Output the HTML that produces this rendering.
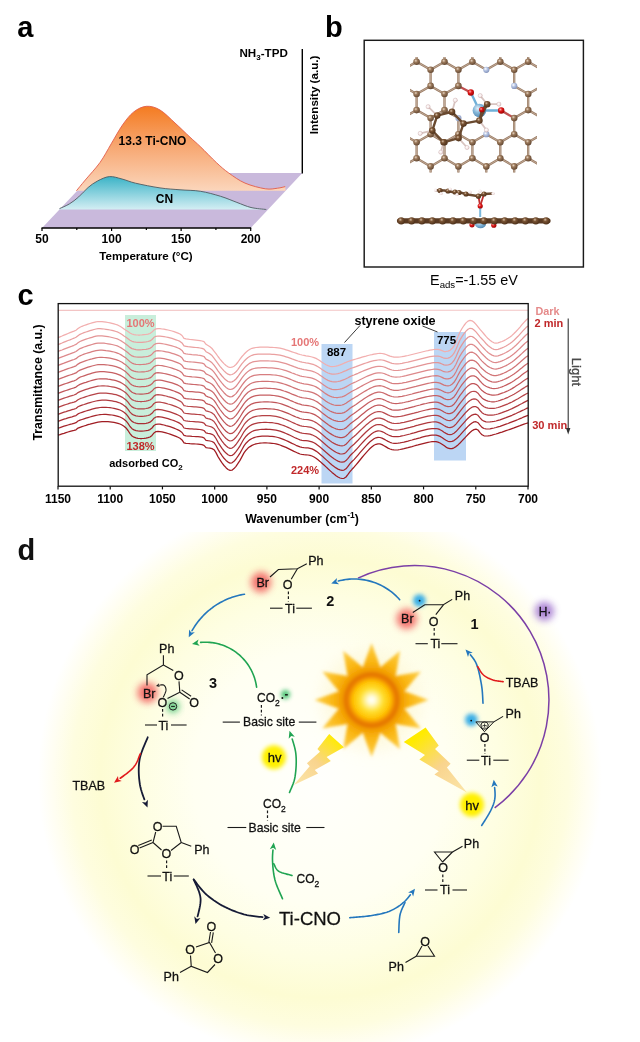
<!DOCTYPE html>
<html><head><meta charset="utf-8"><style>
html,body{margin:0;padding:0;background:#fff;}
svg{display:block;will-change:transform;}
text{font-family:"Liberation Sans",sans-serif;}
</style></head><body>
<svg width="640" height="1042" viewBox="0 0 640 1042">
<rect width="640" height="1042" fill="#fff"/>
<defs>
<linearGradient id="gOr" gradientUnits="userSpaceOnUse" x1="0" y1="106" x2="0" y2="191">
<stop offset="0" stop-color="#f47b20"/><stop offset="0.45" stop-color="#f7a56e"/><stop offset="1" stop-color="#fbd6bc"/></linearGradient>
<linearGradient id="gTe" gradientUnits="userSpaceOnUse" x1="0" y1="176" x2="0" y2="210">
<stop offset="0" stop-color="#38b2c6"/><stop offset="1" stop-color="#d6eff4"/></linearGradient>
</defs>
<polygon points="42,228 250.7,228 302.3,173 94,173" fill="#c9b9dc"/>
<path d="M76.40,190.80 C77.88,189.00 81.37,184.72 85.30,180.00 C89.23,175.28 95.67,168.54 100.00,162.50 C104.33,156.46 107.50,150.00 111.25,143.75 C115.00,137.50 118.75,130.31 122.50,125.00 C126.25,119.69 129.75,115.02 133.75,111.90 C137.75,108.78 142.12,106.62 146.50,106.30 C150.88,105.98 155.25,107.22 160.00,110.00 C164.75,112.78 170.00,118.47 175.00,123.00 C180.00,127.53 185.78,133.27 190.00,137.20 C194.22,141.13 195.87,142.33 200.30,146.60 C204.73,150.87 211.86,158.40 216.60,162.80 C221.34,167.20 224.02,169.62 228.75,173.00 C233.48,176.38 238.91,180.47 245.00,183.10 C251.09,185.73 259.88,187.95 265.30,188.80 C270.72,189.65 274.18,188.57 277.50,188.20 C280.82,187.83 283.92,186.87 285.20,186.60 L285.6,190.8 Z" fill="url(#gOr)"/>
<path d="M76.40,190.80 C77.88,189.00 81.37,184.72 85.30,180.00 C89.23,175.28 95.67,168.54 100.00,162.50 C104.33,156.46 107.50,150.00 111.25,143.75 C115.00,137.50 118.75,130.31 122.50,125.00 C126.25,119.69 129.75,115.02 133.75,111.90 C137.75,108.78 142.12,106.62 146.50,106.30 C150.88,105.98 155.25,107.22 160.00,110.00 C164.75,112.78 170.00,118.47 175.00,123.00 C180.00,127.53 185.78,133.27 190.00,137.20 C194.22,141.13 195.87,142.33 200.30,146.60 C204.73,150.87 211.86,158.40 216.60,162.80 C221.34,167.20 224.02,169.62 228.75,173.00 C233.48,176.38 238.91,180.47 245.00,183.10 C251.09,185.73 259.88,187.95 265.30,188.80 C270.72,189.65 274.18,188.57 277.50,188.20 C280.82,187.83 283.92,186.87 285.20,186.60" fill="none" stroke="#e25c4a" stroke-width="0.9"/>
<path d="M59.50,208.60 C61.15,207.82 66.20,205.85 69.40,203.90 C72.60,201.95 75.58,199.63 78.70,196.90 C81.82,194.17 84.97,190.15 88.10,187.50 C91.23,184.85 93.95,182.82 97.50,181.00 C101.05,179.18 105.32,176.93 109.40,176.60 C113.48,176.27 117.63,177.90 122.00,179.00 C126.37,180.10 129.27,181.72 135.60,183.20 C141.93,184.68 152.60,186.80 160.00,187.90 C167.40,189.00 173.28,189.24 180.00,189.80 C186.72,190.36 193.53,190.17 200.30,191.25 C207.07,192.33 214.50,194.44 220.60,196.30 C226.70,198.16 231.83,200.53 236.90,202.40 C241.97,204.27 246.10,206.32 251.00,207.50 C255.90,208.68 263.75,209.17 266.30,209.50 L267.3,209.6 L59.5,209.6 Z" fill="url(#gTe)"/>
<path d="M59.50,208.60 C61.15,207.82 66.20,205.85 69.40,203.90 C72.60,201.95 75.58,199.63 78.70,196.90 C81.82,194.17 84.97,190.15 88.10,187.50 C91.23,184.85 93.95,182.82 97.50,181.00 C101.05,179.18 105.32,176.93 109.40,176.60 C113.48,176.27 117.63,177.90 122.00,179.00 C126.37,180.10 129.27,181.72 135.60,183.20 C141.93,184.68 152.60,186.80 160.00,187.90 C167.40,189.00 173.28,189.24 180.00,189.80 C186.72,190.36 193.53,190.17 200.30,191.25 C207.07,192.33 214.50,194.44 220.60,196.30 C226.70,198.16 231.83,200.53 236.90,202.40 C241.97,204.27 246.10,206.32 251.00,207.50 C255.90,208.68 263.75,209.17 266.30,209.50" fill="none" stroke="#4f5a60" stroke-width="0.9"/>
<path d="M41.5,228 H251.2" stroke="#000" stroke-width="1.4"/>
<path d="M42.00,228 v3" stroke="#000" stroke-width="1.2"/>
<path d="M76.78,228 v2" stroke="#000" stroke-width="1.2"/>
<path d="M111.57,228 v3" stroke="#000" stroke-width="1.2"/>
<path d="M146.35,228 v2" stroke="#000" stroke-width="1.2"/>
<path d="M181.13,228 v3" stroke="#000" stroke-width="1.2"/>
<path d="M215.92,228 v2" stroke="#000" stroke-width="1.2"/>
<path d="M250.70,228 v3" stroke="#000" stroke-width="1.2"/>
<path d="M302.3,49 V173.5" stroke="#000" stroke-width="1.4"/>
<text x="17.3" y="36.8" font-family="Liberation Sans" font-weight="bold" font-size="29">a</text>
<text x="42.00" y="242.5" font-family="Liberation Sans" font-weight="bold" font-size="12" text-anchor="middle">50</text>
<text x="111.57" y="242.5" font-family="Liberation Sans" font-weight="bold" font-size="12" text-anchor="middle">100</text>
<text x="181.13" y="242.5" font-family="Liberation Sans" font-weight="bold" font-size="12" text-anchor="middle">150</text>
<text x="250.70" y="242.5" font-family="Liberation Sans" font-weight="bold" font-size="12" text-anchor="middle">200</text>
<text x="146" y="259.5" font-family="Liberation Sans" font-weight="bold" font-size="11.6" text-anchor="middle">Temperature (°C)</text>
<text x="239.5" y="57" font-family="Liberation Sans" font-weight="bold" font-size="11.6">NH<tspan font-size="8" dy="3">3</tspan><tspan dy="-3">-TPD</tspan></text>
<text transform="translate(317.8,95) rotate(-90)" font-family="Liberation Sans" font-weight="bold" font-size="11.6" text-anchor="middle">Intensity (a.u.)</text>
<text x="152.5" y="145.2" font-family="Liberation Sans" font-weight="bold" font-size="12" text-anchor="middle">13.3 Ti-CNO</text>
<text x="164.5" y="202.5" font-family="Liberation Sans" font-weight="bold" font-size="12" text-anchor="middle">CN</text>
<text x="325" y="36.7" font-family="Liberation Sans" font-weight="bold" font-size="29">b</text>
<rect x="364.2" y="40.3" width="219.2" height="226.7" fill="none" stroke="#1a1a1a" stroke-width="1.45"/>
<text x="474" y="284.6" font-family="Liberation Sans" font-size="14.4" text-anchor="middle">E<tspan font-size="9.6" dy="3.2">ads</tspan><tspan dy="-3.2">=-1.55 eV</tspan></text>
<defs>
<radialGradient id="atC" cx="0.38" cy="0.35" r="0.7"><stop offset="0" stop-color="#e8d6c4"/><stop offset="0.35" stop-color="#9c7a5c"/><stop offset="1" stop-color="#5e432e"/></radialGradient>
<radialGradient id="atCd" cx="0.38" cy="0.35" r="0.7"><stop offset="0" stop-color="#d8c0a8"/><stop offset="0.35" stop-color="#7a5434"/><stop offset="1" stop-color="#4a2e18"/></radialGradient>
<radialGradient id="atN" cx="0.38" cy="0.35" r="0.7"><stop offset="0" stop-color="#ffffff"/><stop offset="0.4" stop-color="#b8c6e4"/><stop offset="1" stop-color="#7f8fb8"/></radialGradient>
<radialGradient id="atO" cx="0.38" cy="0.35" r="0.7"><stop offset="0" stop-color="#ffb0b0"/><stop offset="0.4" stop-color="#e01818"/><stop offset="1" stop-color="#9a0000"/></radialGradient>
<radialGradient id="atH" cx="0.4" cy="0.4" r="0.7"><stop offset="0" stop-color="#ffffff"/><stop offset="0.6" stop-color="#f4e6e6"/><stop offset="1" stop-color="#c8a8a8"/></radialGradient>
<radialGradient id="atTi" cx="0.38" cy="0.35" r="0.7"><stop offset="0" stop-color="#e6f2fa"/><stop offset="0.45" stop-color="#86b8da"/><stop offset="1" stop-color="#4f86b0"/></radialGradient>
<clipPath id="latclip"><rect x="410" y="57" width="127" height="115.5"/></clipPath>
</defs>
<g clip-path="url(#latclip)"><path d="M500.3,158.3 L514.2,166.4 M430.6,85.9 L444.5,94.0 M528.2,110.1 L542.1,118.1 M444.5,158.3 L458.4,166.4 M458.4,166.4 L458.4,182.5 M444.5,94.0 L458.4,85.9 M458.4,118.1 L458.4,134.2 M528.2,142.2 L528.2,158.3 M514.2,166.4 L528.2,158.3 M514.2,85.9 L528.2,94.0 M486.3,166.4 L500.3,158.3 M514.2,166.4 L514.2,182.5 M528.2,45.6 L528.2,61.7 M500.3,61.7 L514.2,69.8 M514.2,69.8 L528.2,61.7 M444.5,142.2 L458.4,134.2 M486.3,166.4 L486.3,182.5 M444.5,61.7 L458.4,69.8 M514.2,69.8 L514.2,85.9 M430.6,69.8 L444.5,61.7 M430.6,69.8 L430.6,85.9 M402.7,85.9 L416.6,94.0 M444.5,110.1 L458.4,118.1 M416.6,158.3 L430.6,166.4 M402.7,134.2 L416.6,142.2 M472.4,158.3 L486.3,166.4 M458.4,134.2 L472.4,142.2 M528.2,94.0 L528.2,110.1 M430.6,118.1 L430.6,134.2 M416.6,110.1 L430.6,118.1 M416.6,61.7 L430.6,69.8 M430.6,166.4 L444.5,158.3 M528.2,158.3 L542.1,166.4 M430.6,166.4 L430.6,182.5 M486.3,134.2 L500.3,142.2 M472.4,61.7 L486.3,69.8 M458.4,69.8 L472.4,61.7 M528.2,142.2 L542.1,134.2 M472.4,45.6 L472.4,61.7 M416.6,94.0 L430.6,85.9 M402.7,166.4 L416.6,158.3 M500.3,142.2 L514.2,134.2 M472.4,142.2 L486.3,134.2 M444.5,45.6 L444.5,61.7 M416.6,94.0 L416.6,110.1 M458.4,69.8 L458.4,85.9 M514.2,118.1 L528.2,110.1 M444.5,94.0 L444.5,110.1 M416.6,142.2 L430.6,134.2 M472.4,142.2 L472.4,158.3 M514.2,118.1 L514.2,134.2 M416.6,142.2 L416.6,158.3 M500.3,142.2 L500.3,158.3 M444.5,142.2 L444.5,158.3 M402.7,118.1 L416.6,110.1 M528.2,94.0 L542.1,85.9 M500.3,45.6 L500.3,61.7 M430.6,134.2 L444.5,142.2 M528.2,61.7 L542.1,69.8 M416.6,45.6 L416.6,61.7 M430.6,118.1 L444.5,110.1 M514.2,134.2 L528.2,142.2 M458.4,166.4 L472.4,158.3 M486.3,69.8 L500.3,61.7 M402.7,69.8 L416.6,61.7" stroke="#9b7c64" stroke-width="2.3" fill="none"/>
<path d="M500.3,158.3 L514.2,166.4 M430.6,85.9 L444.5,94.0 M528.2,110.1 L542.1,118.1 M444.5,158.3 L458.4,166.4 M458.4,166.4 L458.4,182.5 M444.5,94.0 L458.4,85.9 M458.4,118.1 L458.4,134.2 M528.2,142.2 L528.2,158.3 M514.2,166.4 L528.2,158.3 M514.2,85.9 L528.2,94.0 M486.3,166.4 L500.3,158.3 M514.2,166.4 L514.2,182.5 M528.2,45.6 L528.2,61.7 M500.3,61.7 L514.2,69.8 M514.2,69.8 L528.2,61.7 M444.5,142.2 L458.4,134.2 M486.3,166.4 L486.3,182.5 M444.5,61.7 L458.4,69.8 M514.2,69.8 L514.2,85.9 M430.6,69.8 L444.5,61.7 M430.6,69.8 L430.6,85.9 M402.7,85.9 L416.6,94.0 M444.5,110.1 L458.4,118.1 M416.6,158.3 L430.6,166.4 M402.7,134.2 L416.6,142.2 M472.4,158.3 L486.3,166.4 M458.4,134.2 L472.4,142.2 M528.2,94.0 L528.2,110.1 M430.6,118.1 L430.6,134.2 M416.6,110.1 L430.6,118.1 M416.6,61.7 L430.6,69.8 M430.6,166.4 L444.5,158.3 M528.2,158.3 L542.1,166.4 M430.6,166.4 L430.6,182.5 M486.3,134.2 L500.3,142.2 M472.4,61.7 L486.3,69.8 M458.4,69.8 L472.4,61.7 M528.2,142.2 L542.1,134.2 M472.4,45.6 L472.4,61.7 M416.6,94.0 L430.6,85.9 M402.7,166.4 L416.6,158.3 M500.3,142.2 L514.2,134.2 M472.4,142.2 L486.3,134.2 M444.5,45.6 L444.5,61.7 M416.6,94.0 L416.6,110.1 M458.4,69.8 L458.4,85.9 M514.2,118.1 L528.2,110.1 M444.5,94.0 L444.5,110.1 M416.6,142.2 L430.6,134.2 M472.4,142.2 L472.4,158.3 M514.2,118.1 L514.2,134.2 M416.6,142.2 L416.6,158.3 M500.3,142.2 L500.3,158.3 M444.5,142.2 L444.5,158.3 M402.7,118.1 L416.6,110.1 M528.2,94.0 L542.1,85.9 M500.3,45.6 L500.3,61.7 M430.6,134.2 L444.5,142.2 M528.2,61.7 L542.1,69.8 M416.6,45.6 L416.6,61.7 M430.6,118.1 L444.5,110.1 M514.2,134.2 L528.2,142.2 M458.4,166.4 L472.4,158.3 M486.3,69.8 L500.3,61.7 M402.7,69.8 L416.6,61.7" stroke="#c6b2a2" stroke-width="0.8" fill="none"/></g>
<path d="M458.4,85.9 L470.8,92.5" stroke="#c05050" stroke-width="2.3" stroke-linecap="round"/>
<path d="M514.2,118.1 L501.2,110.5" stroke="#c05050" stroke-width="2.3" stroke-linecap="round"/>
<path d="M470.8,92.5 L479.4,110.5" stroke="#6fb0d8" stroke-width="2.4" stroke-linecap="round"/>
<path d="M501.2,110.5 L479.4,110.5" stroke="#6fb0d8" stroke-width="2.4" stroke-linecap="round"/>
<circle cx="416.6" cy="61.7" r="3.3" fill="url(#atC)"/>
<circle cx="444.5" cy="61.7" r="3.3" fill="url(#atC)"/>
<circle cx="430.6" cy="69.8" r="3.3" fill="url(#atC)"/>
<circle cx="472.4" cy="61.7" r="3.3" fill="url(#atC)"/>
<circle cx="458.4" cy="69.8" r="3.3" fill="url(#atC)"/>
<circle cx="500.3" cy="61.7" r="3.3" fill="url(#atC)"/>
<circle cx="486.3" cy="69.8" r="3.1" fill="url(#atN)"/>
<circle cx="528.2" cy="61.7" r="3.3" fill="url(#atC)"/>
<circle cx="514.2" cy="69.8" r="3.3" fill="url(#atC)"/>
<circle cx="430.6" cy="85.9" r="3.3" fill="url(#atC)"/>
<circle cx="416.6" cy="94.0" r="3.3" fill="url(#atC)"/>
<circle cx="458.4" cy="85.9" r="3.3" fill="url(#atC)"/>
<circle cx="444.5" cy="94.0" r="3.3" fill="url(#atC)"/>
<circle cx="514.2" cy="85.9" r="3.1" fill="url(#atN)"/>
<circle cx="528.2" cy="94.0" r="3.3" fill="url(#atC)"/>
<circle cx="416.6" cy="110.1" r="3.3" fill="url(#atC)"/>
<circle cx="444.5" cy="110.1" r="3.3" fill="url(#atC)"/>
<circle cx="430.6" cy="118.1" r="3.3" fill="url(#atC)"/>
<circle cx="458.4" cy="118.1" r="3.1" fill="url(#atN)"/>
<circle cx="528.2" cy="110.1" r="3.3" fill="url(#atC)"/>
<circle cx="514.2" cy="118.1" r="3.3" fill="url(#atC)"/>
<circle cx="430.6" cy="134.2" r="3.3" fill="url(#atC)"/>
<circle cx="416.6" cy="142.2" r="3.3" fill="url(#atC)"/>
<circle cx="458.4" cy="134.2" r="3.3" fill="url(#atC)"/>
<circle cx="444.5" cy="142.2" r="3.3" fill="url(#atC)"/>
<circle cx="486.3" cy="134.2" r="3.1" fill="url(#atN)"/>
<circle cx="472.4" cy="142.2" r="3.3" fill="url(#atC)"/>
<circle cx="514.2" cy="134.2" r="3.3" fill="url(#atC)"/>
<circle cx="500.3" cy="142.2" r="3.3" fill="url(#atC)"/>
<circle cx="528.2" cy="142.2" r="3.3" fill="url(#atC)"/>
<circle cx="416.6" cy="158.3" r="3.3" fill="url(#atC)"/>
<circle cx="444.5" cy="158.3" r="3.3" fill="url(#atC)"/>
<circle cx="430.6" cy="166.4" r="3.3" fill="url(#atC)"/>
<circle cx="472.4" cy="158.3" r="3.3" fill="url(#atC)"/>
<circle cx="458.4" cy="166.4" r="3.3" fill="url(#atC)"/>
<circle cx="500.3" cy="158.3" r="3.3" fill="url(#atC)"/>
<circle cx="486.3" cy="166.4" r="3.3" fill="url(#atC)"/>
<circle cx="528.2" cy="158.3" r="3.3" fill="url(#atC)"/>
<circle cx="514.2" cy="166.4" r="3.3" fill="url(#atC)"/>
<circle cx="470.8" cy="92.5" r="3.2" fill="url(#atO)"/>
<circle cx="501.2" cy="110.5" r="3.2" fill="url(#atO)"/>
<circle cx="479.4" cy="110.5" r="6.8" fill="url(#atTi)"/>
<path d="M480.2,95.6 L487.2,104.2" stroke="#d8c4c0" stroke-width="1.8" stroke-linecap="round"/>
<path d="M498.9,104.2 L487.2,104.2" stroke="#d8c4c0" stroke-width="1.8" stroke-linecap="round"/>
<path d="M486.4,130.0 L479.4,120.6" stroke="#d8c4c0" stroke-width="1.8" stroke-linecap="round"/>
<path d="M455.3,100.2 L452.0,111.9" stroke="#d8c4c0" stroke-width="1.8" stroke-linecap="round"/>
<path d="M428.1,106.7 L437.2,115.6" stroke="#d8c4c0" stroke-width="1.8" stroke-linecap="round"/>
<path d="M420.2,133.4 L432.3,130.6" stroke="#d8c4c0" stroke-width="1.8" stroke-linecap="round"/>
<path d="M440.8,152.2 L443.6,142.3" stroke="#d8c4c0" stroke-width="1.8" stroke-linecap="round"/>
<path d="M467.0,147.5 L458.6,138.1" stroke="#d8c4c0" stroke-width="1.8" stroke-linecap="round"/>
<path d="M487.2,104.2 L479.4,120.6" stroke="#6a4a30" stroke-width="2.3" stroke-linecap="round"/>
<path d="M487.2,104.2 L481.7,109.7" stroke="#6a4a30" stroke-width="2.0" stroke-linecap="round"/>
<path d="M479.4,120.6 L481.7,109.7" stroke="#6a4a30" stroke-width="2.0" stroke-linecap="round"/>
<path d="M479.4,120.6 L463.5,123.6" stroke="#6a4a30" stroke-width="2.4" stroke-linecap="round"/>
<path d="M437.2,115.6 L452.0,111.9" stroke="#6a4a30" stroke-width="2.4" stroke-linecap="round"/>
<path d="M452.0,111.9 L463.5,123.6" stroke="#6a4a30" stroke-width="2.4" stroke-linecap="round"/>
<path d="M463.5,123.6 L458.6,138.1" stroke="#6a4a30" stroke-width="2.4" stroke-linecap="round"/>
<path d="M458.6,138.1 L443.6,142.3" stroke="#6a4a30" stroke-width="2.4" stroke-linecap="round"/>
<path d="M443.6,142.3 L432.3,130.6" stroke="#6a4a30" stroke-width="2.4" stroke-linecap="round"/>
<path d="M432.3,130.6 L437.2,115.6" stroke="#6a4a30" stroke-width="2.4" stroke-linecap="round"/>
<circle cx="481.7" cy="109.7" r="2.6" fill="url(#atO)"/>
<circle cx="480.2" cy="95.6" r="2.1" fill="url(#atH)" stroke="#c8a8a8" stroke-width="0.4"/>
<circle cx="498.9" cy="104.2" r="2.1" fill="url(#atH)" stroke="#c8a8a8" stroke-width="0.4"/>
<circle cx="486.4" cy="130.0" r="2.1" fill="url(#atH)" stroke="#c8a8a8" stroke-width="0.4"/>
<circle cx="455.3" cy="100.2" r="2.1" fill="url(#atH)" stroke="#c8a8a8" stroke-width="0.4"/>
<circle cx="428.1" cy="106.7" r="2.1" fill="url(#atH)" stroke="#c8a8a8" stroke-width="0.4"/>
<circle cx="420.2" cy="133.4" r="2.1" fill="url(#atH)" stroke="#c8a8a8" stroke-width="0.4"/>
<circle cx="440.8" cy="152.2" r="2.1" fill="url(#atH)" stroke="#c8a8a8" stroke-width="0.4"/>
<circle cx="467.0" cy="147.5" r="2.1" fill="url(#atH)" stroke="#c8a8a8" stroke-width="0.4"/>
<circle cx="437.2" cy="115.6" r="3.3" fill="url(#atCd)"/>
<circle cx="452.0" cy="111.9" r="3.3" fill="url(#atCd)"/>
<circle cx="463.5" cy="123.6" r="3.3" fill="url(#atCd)"/>
<circle cx="458.6" cy="138.1" r="3.3" fill="url(#atCd)"/>
<circle cx="443.6" cy="142.3" r="3.3" fill="url(#atCd)"/>
<circle cx="432.3" cy="130.6" r="3.3" fill="url(#atCd)"/>
<circle cx="487.2" cy="104.2" r="3.3" fill="url(#atCd)"/>
<circle cx="479.4" cy="120.6" r="3.3" fill="url(#atCd)"/>
<circle cx="472" cy="224.8" r="2.6" fill="url(#atO)"/><circle cx="493.8" cy="225.2" r="2.6" fill="url(#atO)"/>
<ellipse cx="480.5" cy="224" rx="5.5" ry="4.3" fill="url(#atTi)"/>
<path d="M399.5,220.8 H548" stroke="#5a3a22" stroke-width="5.2" stroke-linecap="round"/>
<circle cx="401.2" cy="220.8" r="3.6" fill="url(#atCd)"/>
<circle cx="411.6" cy="220.8" r="3.6" fill="url(#atCd)"/>
<circle cx="421.9" cy="220.8" r="3.6" fill="url(#atCd)"/>
<circle cx="432.3" cy="220.8" r="3.6" fill="url(#atCd)"/>
<circle cx="442.6" cy="220.8" r="3.6" fill="url(#atCd)"/>
<circle cx="453.0" cy="220.8" r="3.6" fill="url(#atCd)"/>
<circle cx="463.3" cy="220.8" r="3.6" fill="url(#atCd)"/>
<circle cx="473.7" cy="220.8" r="3.6" fill="url(#atCd)"/>
<circle cx="484.0" cy="220.8" r="3.6" fill="url(#atCd)"/>
<circle cx="494.4" cy="220.8" r="3.6" fill="url(#atCd)"/>
<circle cx="504.7" cy="220.8" r="3.6" fill="url(#atCd)"/>
<circle cx="515.1" cy="220.8" r="3.6" fill="url(#atCd)"/>
<circle cx="525.4" cy="220.8" r="3.6" fill="url(#atCd)"/>
<circle cx="535.8" cy="220.8" r="3.6" fill="url(#atCd)"/>
<circle cx="546.1" cy="220.8" r="3.6" fill="url(#atCd)"/>
<path d="M480.2,206 V217" stroke="#7ab8dc" stroke-width="2"/>
<path d="M478.4,196.2 L480.2,206.0" stroke="#c03030" stroke-width="1.8" stroke-linecap="round"/>
<path d="M484.0,194.0 L480.2,206.0" stroke="#c03030" stroke-width="1.8" stroke-linecap="round"/>
<circle cx="480.2" cy="206" r="2.6" fill="url(#atO)"/>
<path d="M435.5,190.1 L444.4,190.5 L452.5,192 L462,193 L468,194.5 L478.4,196.2 L484,194 L493,193.5" stroke="#6a4a30" stroke-width="2.4" fill="none"/>
<circle cx="440.0" cy="190.5" r="2.6" fill="url(#atCd)"/>
<circle cx="448.0" cy="191.0" r="2.6" fill="url(#atCd)"/>
<circle cx="455.0" cy="192.0" r="2.6" fill="url(#atCd)"/>
<circle cx="459.0" cy="192.5" r="2.6" fill="url(#atCd)"/>
<circle cx="466.0" cy="194.0" r="2.6" fill="url(#atCd)"/>
<circle cx="478.4" cy="196.2" r="2.6" fill="url(#atCd)"/>
<circle cx="484.0" cy="194.0" r="2.6" fill="url(#atCd)"/>
<circle cx="435.5" cy="190.1" r="1.6" fill="url(#atH)"/>
<circle cx="441.0" cy="193.5" r="1.6" fill="url(#atH)"/>
<circle cx="450.0" cy="189.0" r="1.6" fill="url(#atH)"/>
<circle cx="457.0" cy="194.5" r="1.6" fill="url(#atH)"/>
<circle cx="470.0" cy="192.0" r="1.6" fill="url(#atH)"/>
<circle cx="480.0" cy="191.0" r="1.6" fill="url(#atH)"/>
<circle cx="493.0" cy="193.5" r="1.6" fill="url(#atH)"/>
<rect x="125" y="315" width="31" height="136" fill="#c9eedb"/>
<rect x="321.5" y="344" width="31" height="139.5" fill="#bcd6f4"/>
<rect x="434" y="332" width="32" height="128.5" fill="#bcd6f4"/>
<path d="M58.5,310.4 C150,310 300,311 528,310.2" fill="none" stroke="#f3c4c4" stroke-width="1.1"/>
<path d="M58.0,337.6 60.0,336.8 62.0,336.0 64.0,335.1 66.0,334.3 68.0,333.5 70.0,332.7 72.0,331.9 74.0,331.1 76.0,330.2 78.0,328.6 80.0,327.2 82.0,326.3 84.0,325.5 86.0,324.8 88.0,324.1 90.0,323.5 92.0,322.9 94.0,322.3 96.0,321.8 98.0,321.5 100.0,321.5 102.0,321.6 104.0,321.9 106.0,322.2 108.0,322.5 110.0,322.9 112.0,323.4 114.0,323.9 116.0,324.5 118.0,325.2 120.0,326.2 122.0,327.5 124.0,328.9 126.0,330.3 128.0,331.6 130.0,333.0 132.0,334.0 134.0,334.6 136.0,334.9 138.0,335.0 140.0,335.0 142.0,334.9 144.0,334.7 146.0,334.5 148.0,334.1 150.0,333.5 152.0,332.1 154.0,330.0 156.0,328.9 158.0,328.7 160.0,328.7 162.0,329.0 164.0,329.2 166.0,329.6 168.0,330.0 170.0,330.5 172.0,331.0 174.0,331.6 176.0,332.3 178.0,333.1 180.0,334.0 182.0,335.5 184.0,338.4 186.0,338.9 188.0,339.2 190.0,339.5 192.0,339.7 194.0,339.9 196.0,340.1 198.0,340.3 200.0,340.6 202.0,341.0 204.0,341.7 206.0,344.3 208.0,345.5 210.0,346.7 212.0,348.5 214.0,351.1 216.0,353.7 218.0,356.5 220.0,359.1 222.0,361.5 224.0,363.6 226.0,365.5 228.0,366.8 230.0,367.5 232.0,367.2 234.0,366.2 236.0,364.5 238.0,362.0 240.0,359.1 242.0,356.5 244.0,354.3 246.0,352.2 248.0,350.5 250.0,349.2 252.0,348.3 254.0,347.8 256.0,347.5 258.0,347.3 260.0,347.2 262.0,347.2 264.0,347.2 266.0,347.2 268.0,347.2 270.0,347.3 272.0,347.4 274.0,347.5 276.0,347.7 278.0,347.9 280.0,348.2 282.0,348.7 284.0,349.2 286.0,349.8 288.0,350.4 290.0,351.1 292.0,351.8 294.0,352.5 296.0,353.2 298.0,353.9 300.0,354.5 302.0,355.0 304.0,355.4 306.0,355.8 308.0,356.1 310.0,356.5 312.0,357.0 314.0,357.6 316.0,358.4 318.0,359.5 320.0,360.8 322.0,362.2 324.0,363.5 326.0,364.7 328.0,365.6 330.0,366.3 332.0,366.6 334.0,366.5 336.0,366.2 338.0,365.6 340.0,364.9 342.0,364.1 344.0,363.2 346.0,362.4 348.0,361.5 350.0,360.8 352.0,360.2 354.0,359.6 356.0,359.0 358.0,358.4 360.0,357.8 362.0,357.2 364.0,356.6 366.0,356.1 368.0,355.5 370.0,355.0 372.0,354.6 374.0,354.1 376.0,353.8 378.0,353.5 380.0,353.4 382.0,353.5 384.0,353.8 386.0,354.5 388.0,355.3 390.0,356.1 392.0,356.7 394.0,357.1 396.0,357.2 398.0,357.2 400.0,357.0 402.0,356.7 404.0,356.3 406.0,355.9 408.0,355.5 410.0,355.0 412.0,354.5 414.0,354.0 416.0,353.5 418.0,353.0 420.0,352.5 422.0,352.0 424.0,351.5 426.0,351.0 428.0,350.6 430.0,350.1 432.0,349.8 434.0,349.5 436.0,349.4 438.0,349.4 440.0,349.8 442.0,350.6 444.0,351.5 446.0,351.5 448.0,351.1 450.0,350.3 452.0,348.6 454.0,346.0 456.0,341.7 458.0,336.6 460.0,332.0 462.0,328.5 464.0,325.5 466.0,322.9 468.0,321.1 470.0,320.3 472.0,320.8 474.0,322.3 476.0,324.4 478.0,326.9 480.0,329.4 482.0,331.7 484.0,334.0 486.0,336.4 488.0,338.6 490.0,340.3 492.0,341.8 494.0,342.8 496.0,343.1 498.0,342.8 500.0,342.2 502.0,341.5 504.0,340.6 506.0,339.5 508.0,338.3 510.0,336.9 512.0,335.4 514.0,333.5 516.0,331.5 518.0,329.3 520.0,327.1 522.0,324.7 524.0,322.4 526.0,320.3 528.0,318.5" fill="none" stroke="rgb(242,174,174)" stroke-width="1.25" stroke-linejoin="round"/>
<path d="M58.0,344.6 60.0,343.8 62.0,343.0 64.0,342.1 66.0,341.3 68.0,340.5 70.0,339.8 72.0,339.0 74.0,338.2 76.0,337.3 78.0,335.7 80.0,334.3 82.0,333.5 84.0,332.7 86.0,332.0 88.0,331.3 90.0,330.7 92.0,330.1 94.0,329.5 96.0,329.0 98.0,328.7 100.0,328.7 102.0,328.8 104.0,329.0 106.0,329.3 108.0,329.6 110.0,330.0 112.0,330.4 114.0,330.9 116.0,331.5 118.0,332.2 120.0,333.2 122.0,334.5 124.0,335.9 126.0,337.2 128.0,338.7 130.0,340.2 132.0,341.3 134.0,341.9 136.0,342.2 138.0,342.4 140.0,342.4 142.0,342.3 144.0,342.1 146.0,341.9 148.0,341.5 150.0,340.9 152.0,339.5 154.0,337.3 156.0,336.3 158.0,336.0 160.0,336.1 162.0,336.3 164.0,336.6 166.0,337.0 168.0,337.4 170.0,337.9 172.0,338.4 174.0,339.1 176.0,339.8 178.0,340.5 180.0,341.4 182.0,342.9 184.0,345.9 186.0,346.3 188.0,346.7 190.0,346.9 192.0,347.1 194.0,347.3 196.0,347.5 198.0,347.7 200.0,348.0 202.0,348.4 204.0,349.1 206.0,351.7 208.0,352.8 210.0,353.9 212.0,355.6 214.0,358.1 216.0,360.8 218.0,363.6 220.0,366.3 222.0,368.7 224.0,370.9 226.0,372.8 228.0,374.2 230.0,374.8 232.0,374.5 234.0,373.5 236.0,371.8 238.0,369.3 240.0,366.4 242.0,363.6 244.0,361.3 246.0,359.2 248.0,357.5 250.0,356.2 252.0,355.3 254.0,354.7 256.0,354.4 258.0,354.2 260.0,354.1 262.0,354.0 264.0,354.0 266.0,354.0 268.0,354.1 270.0,354.2 272.0,354.3 274.0,354.4 276.0,354.6 278.0,354.8 280.0,355.1 282.0,355.6 284.0,356.2 286.0,356.8 288.0,357.4 290.0,358.1 292.0,358.9 294.0,359.6 296.0,360.3 298.0,361.0 300.0,361.6 302.0,362.1 304.0,362.5 306.0,362.9 308.0,363.2 310.0,363.6 312.0,364.1 314.0,364.7 316.0,365.6 318.0,366.7 320.0,368.0 322.0,369.4 324.0,370.7 326.0,372.0 328.0,373.0 330.0,373.7 332.0,374.2 334.0,374.2 336.0,374.0 338.0,373.6 340.0,373.0 342.0,372.3 344.0,371.4 346.0,370.6 348.0,369.6 350.0,368.7 352.0,368.0 354.0,367.3 356.0,366.6 358.0,365.8 360.0,365.1 362.0,364.4 364.0,363.7 366.0,363.0 368.0,362.3 370.0,361.7 372.0,361.1 374.0,360.7 376.0,360.3 378.0,360.0 380.0,359.9 382.0,360.0 384.0,360.4 386.0,361.1 388.0,361.9 390.0,362.7 392.0,363.4 394.0,363.7 396.0,363.9 398.0,363.8 400.0,363.6 402.0,363.3 404.0,362.9 406.0,362.5 408.0,362.1 410.0,361.6 412.0,361.1 414.0,360.6 416.0,360.1 418.0,359.6 420.0,359.1 422.0,358.6 424.0,358.1 426.0,357.6 428.0,357.1 430.0,356.7 432.0,356.3 434.0,356.1 436.0,356.0 438.0,356.1 440.0,356.5 442.0,357.3 444.0,358.2 446.0,358.4 448.0,358.1 450.0,357.3 452.0,355.8 454.0,353.2 456.0,349.2 458.0,344.4 460.0,339.9 462.0,336.6 464.0,333.6 466.0,331.1 468.0,329.2 470.0,328.3 472.0,328.6 474.0,330.0 476.0,331.9 478.0,334.3 480.0,336.8 482.0,339.0 484.0,341.2 486.0,343.5 488.0,345.5 490.0,347.1 492.0,348.5 494.0,349.4 496.0,349.6 498.0,349.3 500.0,348.7 502.0,347.9 504.0,347.0 506.0,346.0 508.0,344.8 510.0,343.5 512.0,342.0 514.0,340.3 516.0,338.3 518.0,336.3 520.0,334.1 522.0,331.9 524.0,329.7 526.0,327.6 528.0,325.9" fill="none" stroke="rgb(234,160,160)" stroke-width="1.25" stroke-linejoin="round"/>
<path d="M58.0,351.5 60.0,350.7 62.0,350.0 64.0,349.2 66.0,348.4 68.0,347.6 70.0,346.8 72.0,346.1 74.0,345.3 76.0,344.4 78.0,342.8 80.0,341.5 82.0,340.6 84.0,339.9 86.0,339.2 88.0,338.5 90.0,337.9 92.0,337.3 94.0,336.7 96.0,336.2 98.0,335.9 100.0,335.8 102.0,335.9 104.0,336.1 106.0,336.4 108.0,336.7 110.0,337.0 112.0,337.5 114.0,338.0 116.0,338.5 118.0,339.2 120.0,340.2 122.0,341.4 124.0,342.8 126.0,344.2 128.0,345.8 130.0,347.4 132.0,348.6 134.0,349.2 136.0,349.6 138.0,349.8 140.0,349.8 142.0,349.7 144.0,349.5 146.0,349.3 148.0,348.9 150.0,348.3 152.0,346.9 154.0,344.7 156.0,343.6 158.0,343.4 160.0,343.4 162.0,343.7 164.0,344.0 166.0,344.4 168.0,344.8 170.0,345.3 172.0,345.9 174.0,346.5 176.0,347.2 178.0,348.0 180.0,348.9 182.0,350.4 184.0,353.3 186.0,353.8 188.0,354.1 190.0,354.3 192.0,354.6 194.0,354.8 196.0,354.9 198.0,355.2 200.0,355.4 202.0,355.8 204.0,356.5 206.0,359.1 208.0,360.1 210.0,361.2 212.0,362.8 214.0,365.2 216.0,367.9 218.0,370.8 220.0,373.5 222.0,376.0 224.0,378.2 226.0,380.1 228.0,381.5 230.0,382.2 232.0,381.9 234.0,380.8 236.0,379.0 238.0,376.5 240.0,373.6 242.0,370.8 244.0,368.4 246.0,366.2 248.0,364.5 250.0,363.1 252.0,362.2 254.0,361.6 256.0,361.3 258.0,361.1 260.0,360.9 262.0,360.9 264.0,360.8 266.0,360.9 268.0,360.9 270.0,361.0 272.0,361.1 274.0,361.2 276.0,361.4 278.0,361.7 280.0,362.1 282.0,362.6 284.0,363.1 286.0,363.7 288.0,364.4 290.0,365.2 292.0,365.9 294.0,366.7 296.0,367.4 298.0,368.1 300.0,368.7 302.0,369.2 304.0,369.6 306.0,369.9 308.0,370.3 310.0,370.7 312.0,371.2 314.0,371.8 316.0,372.7 318.0,373.8 320.0,375.2 322.0,376.6 324.0,378.0 326.0,379.3 328.0,380.4 330.0,381.2 332.0,381.7 334.0,381.9 336.0,381.8 338.0,381.5 340.0,381.1 342.0,380.4 344.0,379.7 346.0,378.7 348.0,377.7 350.0,376.6 352.0,375.7 354.0,375.0 356.0,374.1 358.0,373.3 360.0,372.4 362.0,371.5 364.0,370.7 366.0,369.9 368.0,369.1 370.0,368.4 372.0,367.7 374.0,367.2 376.0,366.7 378.0,366.4 380.0,366.3 382.0,366.5 384.0,367.0 386.0,367.7 388.0,368.6 390.0,369.4 392.0,370.0 394.0,370.4 396.0,370.5 398.0,370.4 400.0,370.2 402.0,369.9 404.0,369.5 406.0,369.1 408.0,368.6 410.0,368.2 412.0,367.7 414.0,367.2 416.0,366.7 418.0,366.1 420.0,365.6 422.0,365.1 424.0,364.6 426.0,364.1 428.0,363.7 430.0,363.3 432.0,362.9 434.0,362.6 436.0,362.6 438.0,362.7 440.0,363.2 442.0,364.0 444.0,364.9 446.0,365.2 448.0,365.0 450.0,364.4 452.0,362.9 454.0,360.5 456.0,356.7 458.0,352.1 460.0,347.8 462.0,344.6 464.0,341.7 466.0,339.2 468.0,337.3 470.0,336.4 472.0,336.5 474.0,337.6 476.0,339.4 478.0,341.6 480.0,344.2 482.0,346.4 484.0,348.5 486.0,350.6 488.0,352.5 490.0,353.9 492.0,355.1 494.0,355.9 496.0,356.1 498.0,355.8 500.0,355.2 502.0,354.4 504.0,353.5 506.0,352.5 508.0,351.4 510.0,350.1 512.0,348.7 514.0,347.0 516.0,345.2 518.0,343.2 520.0,341.1 522.0,339.1 524.0,337.0 526.0,335.0 528.0,333.4" fill="none" stroke="rgb(227,148,149)" stroke-width="1.25" stroke-linejoin="round"/>
<path d="M58.0,358.5 60.0,357.7 62.0,356.9 64.0,356.2 66.0,355.4 68.0,354.6 70.0,353.9 72.0,353.1 74.0,352.4 76.0,351.5 78.0,349.9 80.0,348.6 82.0,347.8 84.0,347.0 86.0,346.3 88.0,345.7 90.0,345.1 92.0,344.5 94.0,343.9 96.0,343.4 98.0,343.1 100.0,343.0 102.0,343.1 104.0,343.2 106.0,343.5 108.0,343.8 110.0,344.1 112.0,344.5 114.0,345.0 116.0,345.5 118.0,346.2 120.0,347.2 122.0,348.4 124.0,349.8 126.0,351.2 128.0,352.8 130.0,354.6 132.0,355.9 134.0,356.6 136.0,357.0 138.0,357.1 140.0,357.2 142.0,357.1 144.0,356.9 146.0,356.7 148.0,356.3 150.0,355.7 152.0,354.2 154.0,352.0 156.0,350.9 158.0,350.7 160.0,350.8 162.0,351.0 164.0,351.4 166.0,351.8 168.0,352.2 170.0,352.7 172.0,353.3 174.0,353.9 176.0,354.6 178.0,355.4 180.0,356.3 182.0,357.8 184.0,360.8 186.0,361.3 188.0,361.6 190.0,361.8 192.0,362.0 194.0,362.2 196.0,362.4 198.0,362.6 200.0,362.8 202.0,363.2 204.0,363.9 206.0,366.5 208.0,367.5 210.0,368.5 212.0,369.9 214.0,372.2 216.0,374.9 218.0,377.9 220.0,380.7 222.0,383.2 224.0,385.5 226.0,387.4 228.0,388.8 230.0,389.5 232.0,389.2 234.0,388.1 236.0,386.3 238.0,383.7 240.0,380.8 242.0,377.9 244.0,375.4 246.0,373.2 248.0,371.4 250.0,370.1 252.0,369.1 254.0,368.5 256.0,368.2 258.0,367.9 260.0,367.8 262.0,367.7 264.0,367.7 266.0,367.7 268.0,367.8 270.0,367.8 272.0,367.9 274.0,368.1 276.0,368.3 278.0,368.6 280.0,369.0 282.0,369.5 284.0,370.1 286.0,370.7 288.0,371.4 290.0,372.2 292.0,373.0 294.0,373.7 296.0,374.5 298.0,375.2 300.0,375.8 302.0,376.3 304.0,376.7 306.0,377.0 308.0,377.3 310.0,377.7 312.0,378.2 314.0,378.9 316.0,379.8 318.0,381.0 320.0,382.3 322.0,383.8 324.0,385.2 326.0,386.6 328.0,387.7 330.0,388.6 332.0,389.3 334.0,389.6 336.0,389.6 338.0,389.5 340.0,389.2 342.0,388.6 344.0,387.9 346.0,386.9 348.0,385.7 350.0,384.5 352.0,383.5 354.0,382.6 356.0,381.7 358.0,380.7 360.0,379.7 362.0,378.7 364.0,377.7 366.0,376.8 368.0,375.9 370.0,375.1 372.0,374.3 374.0,373.7 376.0,373.2 378.0,372.9 380.0,372.8 382.0,373.0 384.0,373.5 386.0,374.3 388.0,375.2 390.0,376.0 392.0,376.6 394.0,377.0 396.0,377.1 398.0,377.0 400.0,376.8 402.0,376.5 404.0,376.1 406.0,375.7 408.0,375.2 410.0,374.7 412.0,374.2 414.0,373.7 416.0,373.2 418.0,372.7 420.0,372.2 422.0,371.7 424.0,371.2 426.0,370.7 428.0,370.2 430.0,369.8 432.0,369.5 434.0,369.2 436.0,369.2 438.0,369.3 440.0,369.8 442.0,370.7 444.0,371.7 446.0,372.0 448.0,371.9 450.0,371.4 452.0,370.1 454.0,367.8 456.0,364.2 458.0,359.8 460.0,355.8 462.0,352.6 464.0,349.8 466.0,347.3 468.0,345.4 470.0,344.4 472.0,344.4 474.0,345.3 476.0,346.9 478.0,349.0 480.0,351.5 482.0,353.8 484.0,355.8 486.0,357.7 488.0,359.4 490.0,360.7 492.0,361.8 494.0,362.5 496.0,362.6 498.0,362.2 500.0,361.6 502.0,360.9 504.0,360.0 506.0,359.0 508.0,357.9 510.0,356.7 512.0,355.3 514.0,353.8 516.0,352.0 518.0,350.1 520.0,348.2 522.0,346.2 524.0,344.2 526.0,342.4 528.0,340.9" fill="none" stroke="rgb(221,137,139)" stroke-width="1.25" stroke-linejoin="round"/>
<path d="M58.0,365.5 60.0,364.7 62.0,363.9 64.0,363.2 66.0,362.4 68.0,361.6 70.0,360.9 72.0,360.2 74.0,359.5 76.0,358.7 78.0,357.0 80.0,355.8 82.0,355.0 84.0,354.2 86.0,353.5 88.0,352.9 90.0,352.3 92.0,351.7 94.0,351.1 96.0,350.6 98.0,350.3 100.0,350.2 102.0,350.2 104.0,350.3 106.0,350.6 108.0,350.8 110.0,351.2 112.0,351.6 114.0,352.0 116.0,352.6 118.0,353.3 120.0,354.2 122.0,355.4 124.0,356.7 126.0,358.1 128.0,359.9 130.0,361.8 132.0,363.1 134.0,363.9 136.0,364.3 138.0,364.5 140.0,364.6 142.0,364.5 144.0,364.3 146.0,364.1 148.0,363.7 150.0,363.1 152.0,361.6 154.0,359.4 156.0,358.3 158.0,358.0 160.0,358.1 162.0,358.4 164.0,358.7 166.0,359.1 168.0,359.6 170.0,360.1 172.0,360.7 174.0,361.3 176.0,362.1 178.0,362.9 180.0,363.8 182.0,365.3 184.0,368.2 186.0,368.7 188.0,369.0 190.0,369.2 192.0,369.4 194.0,369.6 196.0,369.8 198.0,370.0 200.0,370.2 202.0,370.6 204.0,371.3 206.0,373.9 208.0,374.8 210.0,375.7 212.0,377.1 214.0,379.2 216.0,382.0 218.0,385.1 220.0,387.9 222.0,390.4 224.0,392.7 226.0,394.7 228.0,396.2 230.0,396.9 232.0,396.6 234.0,395.4 236.0,393.6 238.0,391.0 240.0,388.1 242.0,385.1 244.0,382.5 246.0,380.2 248.0,378.4 250.0,377.0 252.0,376.1 254.0,375.4 256.0,375.1 258.0,374.8 260.0,374.6 262.0,374.6 264.0,374.5 266.0,374.5 268.0,374.6 270.0,374.7 272.0,374.8 274.0,375.0 276.0,375.2 278.0,375.5 280.0,375.9 282.0,376.4 284.0,377.0 286.0,377.7 288.0,378.4 290.0,379.2 292.0,380.0 294.0,380.8 296.0,381.6 298.0,382.3 300.0,382.9 302.0,383.4 304.0,383.8 306.0,384.1 308.0,384.4 310.0,384.8 312.0,385.3 314.0,386.0 316.0,386.9 318.0,388.1 320.0,389.5 322.0,391.0 324.0,392.5 326.0,393.9 328.0,395.1 330.0,396.1 332.0,396.8 334.0,397.3 336.0,397.5 338.0,397.5 340.0,397.2 342.0,396.8 344.0,396.1 346.0,395.1 348.0,393.8 350.0,392.5 352.0,391.3 354.0,390.3 356.0,389.3 358.0,388.1 360.0,387.0 362.0,385.9 364.0,384.8 366.0,383.7 368.0,382.7 370.0,381.7 372.0,380.9 374.0,380.2 376.0,379.6 378.0,379.3 380.0,379.3 382.0,379.5 384.0,380.1 386.0,380.9 388.0,381.8 390.0,382.6 392.0,383.3 394.0,383.6 396.0,383.7 398.0,383.7 400.0,383.4 402.0,383.1 404.0,382.7 406.0,382.3 408.0,381.8 410.0,381.3 412.0,380.8 414.0,380.3 416.0,379.8 418.0,379.3 420.0,378.7 422.0,378.2 424.0,377.7 426.0,377.2 428.0,376.8 430.0,376.4 432.0,376.0 434.0,375.8 436.0,375.7 438.0,375.9 440.0,376.5 442.0,377.4 444.0,378.4 446.0,378.8 448.0,378.9 450.0,378.4 452.0,377.2 454.0,375.1 456.0,371.7 458.0,367.6 460.0,363.7 462.0,360.6 464.0,357.9 466.0,355.4 468.0,353.5 470.0,352.4 472.0,352.2 474.0,353.0 476.0,354.3 478.0,356.4 480.0,358.9 482.0,361.1 484.0,363.0 486.0,364.8 488.0,366.4 490.0,367.5 492.0,368.4 494.0,369.0 496.0,369.1 498.0,368.7 500.0,368.1 502.0,367.4 504.0,366.5 506.0,365.6 508.0,364.5 510.0,363.3 512.0,362.0 514.0,360.5 516.0,358.8 518.0,357.1 520.0,355.2 522.0,353.4 524.0,351.5 526.0,349.8 528.0,348.3" fill="none" stroke="rgb(215,126,128)" stroke-width="1.25" stroke-linejoin="round"/>
<path d="M58.0,372.5 60.0,371.7 62.0,370.9 64.0,370.2 66.0,369.4 68.0,368.7 70.0,368.0 72.0,367.3 74.0,366.6 76.0,365.8 78.0,364.1 80.0,362.9 82.0,362.1 84.0,361.4 86.0,360.7 88.0,360.0 90.0,359.4 92.0,358.9 94.0,358.3 96.0,357.8 98.0,357.5 100.0,357.3 102.0,357.3 104.0,357.5 106.0,357.7 108.0,357.9 110.0,358.2 112.0,358.6 114.0,359.1 116.0,359.6 118.0,360.3 120.0,361.2 122.0,362.3 124.0,363.7 126.0,365.1 128.0,366.9 130.0,369.0 132.0,370.4 134.0,371.2 136.0,371.7 138.0,371.9 140.0,372.0 142.0,371.9 144.0,371.8 146.0,371.5 148.0,371.1 150.0,370.5 152.0,369.0 154.0,366.7 156.0,365.6 158.0,365.4 160.0,365.5 162.0,365.7 164.0,366.1 166.0,366.5 168.0,367.0 170.0,367.5 172.0,368.1 174.0,368.8 176.0,369.5 178.0,370.3 180.0,371.3 182.0,372.8 184.0,375.7 186.0,376.2 188.0,376.5 190.0,376.7 192.0,376.9 194.0,377.0 196.0,377.2 198.0,377.4 200.0,377.6 202.0,378.0 204.0,378.7 206.0,381.2 208.0,382.1 210.0,383.0 212.0,384.2 214.0,386.3 216.0,389.0 218.0,392.2 220.0,395.1 222.0,397.7 224.0,400.0 226.0,402.0 228.0,403.5 230.0,404.2 232.0,404.0 234.0,402.8 236.0,400.8 238.0,398.2 240.0,395.3 242.0,392.2 244.0,389.5 246.0,387.2 248.0,385.4 250.0,384.0 252.0,383.0 254.0,382.3 256.0,381.9 258.0,381.7 260.0,381.5 262.0,381.4 264.0,381.4 266.0,381.4 268.0,381.4 270.0,381.5 272.0,381.6 274.0,381.8 276.0,382.0 278.0,382.4 280.0,382.8 282.0,383.4 284.0,384.0 286.0,384.7 288.0,385.4 290.0,386.2 292.0,387.0 294.0,387.8 296.0,388.6 298.0,389.4 300.0,390.0 302.0,390.5 304.0,390.9 306.0,391.2 308.0,391.4 310.0,391.8 312.0,392.4 314.0,393.1 316.0,394.1 318.0,395.3 320.0,396.7 322.0,398.2 324.0,399.7 326.0,401.2 328.0,402.5 330.0,403.5 332.0,404.4 334.0,405.0 336.0,405.3 338.0,405.4 340.0,405.3 342.0,405.0 344.0,404.3 346.0,403.3 348.0,401.8 350.0,400.4 352.0,399.1 354.0,398.0 356.0,396.8 358.0,395.6 360.0,394.3 362.0,393.0 364.0,391.8 366.0,390.6 368.0,389.5 370.0,388.4 372.0,387.5 374.0,386.7 376.0,386.1 378.0,385.8 380.0,385.7 382.0,386.0 384.0,386.6 386.0,387.5 388.0,388.4 390.0,389.3 392.0,389.9 394.0,390.3 396.0,390.4 398.0,390.3 400.0,390.0 402.0,389.7 404.0,389.3 406.0,388.9 408.0,388.4 410.0,387.9 412.0,387.4 414.0,386.9 416.0,386.4 418.0,385.8 420.0,385.3 422.0,384.8 424.0,384.3 426.0,383.8 428.0,383.4 430.0,383.0 432.0,382.6 434.0,382.4 436.0,382.3 438.0,382.6 440.0,383.1 442.0,384.1 444.0,385.1 446.0,385.7 448.0,385.8 450.0,385.5 452.0,384.3 454.0,382.3 456.0,379.2 458.0,375.3 460.0,371.6 462.0,368.7 464.0,366.0 466.0,363.5 468.0,361.6 470.0,360.4 472.0,360.1 474.0,360.6 476.0,361.8 478.0,363.7 480.0,366.3 482.0,368.5 484.0,370.3 486.0,372.0 488.0,373.3 490.0,374.3 492.0,375.1 494.0,375.6 496.0,375.6 498.0,375.2 500.0,374.6 502.0,373.8 504.0,373.0 506.0,372.1 508.0,371.0 510.0,369.9 512.0,368.7 514.0,367.2 516.0,365.7 518.0,364.0 520.0,362.3 522.0,360.5 524.0,358.8 526.0,357.1 528.0,355.8" fill="none" stroke="rgb(209,116,118)" stroke-width="1.25" stroke-linejoin="round"/>
<path d="M58.0,379.4 60.0,378.7 62.0,377.9 64.0,377.2 66.0,376.4 68.0,375.7 70.0,375.0 72.0,374.4 74.0,373.7 76.0,372.9 78.0,371.2 80.0,370.1 82.0,369.3 84.0,368.6 86.0,367.9 88.0,367.2 90.0,366.6 92.0,366.0 94.0,365.5 96.0,365.0 98.0,364.7 100.0,364.5 102.0,364.5 104.0,364.6 106.0,364.8 108.0,365.0 110.0,365.3 112.0,365.7 114.0,366.1 116.0,366.6 118.0,367.3 120.0,368.1 122.0,369.3 124.0,370.6 126.0,372.1 128.0,374.0 130.0,376.2 132.0,377.7 134.0,378.5 136.0,379.0 138.0,379.3 140.0,379.4 142.0,379.3 144.0,379.2 146.0,378.9 148.0,378.5 150.0,377.9 152.0,376.4 154.0,374.1 156.0,372.9 158.0,372.7 160.0,372.8 162.0,373.1 164.0,373.5 166.0,373.9 168.0,374.4 170.0,374.9 172.0,375.5 174.0,376.2 176.0,376.9 178.0,377.8 180.0,378.7 182.0,380.2 184.0,383.2 186.0,383.6 188.0,383.9 190.0,384.1 192.0,384.3 194.0,384.5 196.0,384.6 198.0,384.8 200.0,385.0 202.0,385.4 204.0,386.1 206.0,388.6 208.0,389.4 210.0,390.2 212.0,391.4 214.0,393.3 216.0,396.1 218.0,399.4 220.0,402.3 222.0,404.9 224.0,407.3 226.0,409.3 228.0,410.8 230.0,411.6 232.0,411.3 234.0,410.1 236.0,408.1 238.0,405.5 240.0,402.5 242.0,399.4 244.0,396.5 246.0,394.2 248.0,392.3 250.0,391.0 252.0,389.9 254.0,389.3 256.0,388.8 258.0,388.5 260.0,388.4 262.0,388.3 264.0,388.2 266.0,388.2 268.0,388.3 270.0,388.4 272.0,388.5 274.0,388.7 276.0,388.9 278.0,389.3 280.0,389.7 282.0,390.3 284.0,391.0 286.0,391.6 288.0,392.4 290.0,393.2 292.0,394.1 294.0,394.9 296.0,395.7 298.0,396.5 300.0,397.1 302.0,397.6 304.0,398.0 306.0,398.2 308.0,398.5 310.0,398.9 312.0,399.5 314.0,400.2 316.0,401.2 318.0,402.4 320.0,403.9 322.0,405.4 324.0,407.0 326.0,408.5 328.0,409.8 330.0,411.0 332.0,411.9 334.0,412.6 336.0,413.1 338.0,413.4 340.0,413.4 342.0,413.1 344.0,412.6 346.0,411.5 348.0,409.9 350.0,408.3 352.0,406.9 354.0,405.7 356.0,404.4 358.0,403.0 360.0,401.6 362.0,400.2 364.0,398.8 366.0,397.5 368.0,396.3 370.0,395.1 372.0,394.1 374.0,393.2 376.0,392.6 378.0,392.2 380.0,392.2 382.0,392.5 384.0,393.2 386.0,394.1 388.0,395.1 390.0,395.9 392.0,396.5 394.0,396.9 396.0,397.0 398.0,396.9 400.0,396.6 402.0,396.3 404.0,395.9 406.0,395.5 408.0,395.0 410.0,394.5 412.0,394.0 414.0,393.4 416.0,392.9 418.0,392.4 420.0,391.9 422.0,391.3 424.0,390.8 426.0,390.4 428.0,389.9 430.0,389.5 432.0,389.2 434.0,389.0 436.0,388.9 438.0,389.2 440.0,389.8 442.0,390.7 444.0,391.8 446.0,392.5 448.0,392.8 450.0,392.5 452.0,391.5 454.0,389.6 456.0,386.6 458.0,383.0 460.0,379.6 462.0,376.7 464.0,374.0 466.0,371.6 468.0,369.7 470.0,368.4 472.0,367.9 474.0,368.3 476.0,369.3 478.0,371.1 480.0,373.6 482.0,375.9 484.0,377.6 486.0,379.1 488.0,380.3 490.0,381.1 492.0,381.8 494.0,382.1 496.0,382.1 498.0,381.6 500.0,381.0 502.0,380.3 504.0,379.5 506.0,378.6 508.0,377.6 510.0,376.5 512.0,375.3 514.0,374.0 516.0,372.5 518.0,370.9 520.0,369.3 522.0,367.7 524.0,366.0 526.0,364.5 528.0,363.2" fill="none" stroke="rgb(203,105,108)" stroke-width="1.25" stroke-linejoin="round"/>
<path d="M58.0,386.4 60.0,385.7 62.0,384.9 64.0,384.2 66.0,383.5 68.0,382.8 70.0,382.1 72.0,381.4 74.0,380.8 76.0,380.0 78.0,378.4 80.0,377.2 82.0,376.5 84.0,375.8 86.0,375.1 88.0,374.4 90.0,373.8 92.0,373.2 94.0,372.7 96.0,372.2 98.0,371.9 100.0,371.7 102.0,371.6 104.0,371.7 106.0,371.9 108.0,372.1 110.0,372.4 112.0,372.7 114.0,373.1 116.0,373.6 118.0,374.3 120.0,375.1 122.0,376.2 124.0,377.6 126.0,379.1 128.0,381.0 130.0,383.4 132.0,385.0 134.0,385.9 136.0,386.4 138.0,386.7 140.0,386.8 142.0,386.7 144.0,386.6 146.0,386.3 148.0,385.9 150.0,385.2 152.0,383.8 154.0,381.4 156.0,380.3 158.0,380.1 160.0,380.2 162.0,380.4 164.0,380.8 166.0,381.3 168.0,381.8 170.0,382.3 172.0,382.9 174.0,383.6 176.0,384.4 178.0,385.2 180.0,386.2 182.0,387.7 184.0,390.6 186.0,391.1 188.0,391.4 190.0,391.6 192.0,391.7 194.0,391.9 196.0,392.1 198.0,392.2 200.0,392.4 202.0,392.8 204.0,393.5 206.0,396.0 208.0,396.8 210.0,397.5 212.0,398.6 214.0,400.4 216.0,403.2 218.0,406.5 220.0,409.5 222.0,412.2 224.0,414.6 226.0,416.6 228.0,418.1 230.0,419.0 232.0,418.7 234.0,417.4 236.0,415.4 238.0,412.7 240.0,409.7 242.0,406.6 244.0,403.6 246.0,401.2 248.0,399.3 250.0,397.9 252.0,396.9 254.0,396.2 256.0,395.7 258.0,395.4 260.0,395.2 262.0,395.1 264.0,395.1 266.0,395.1 268.0,395.1 270.0,395.2 272.0,395.3 274.0,395.5 276.0,395.8 278.0,396.1 280.0,396.6 282.0,397.2 284.0,397.9 286.0,398.6 288.0,399.4 290.0,400.3 292.0,401.1 294.0,402.0 296.0,402.8 298.0,403.6 300.0,404.2 302.0,404.8 304.0,405.1 306.0,405.3 308.0,405.6 310.0,406.0 312.0,406.5 314.0,407.3 316.0,408.3 318.0,409.6 320.0,411.1 322.0,412.7 324.0,414.2 326.0,415.8 328.0,417.2 330.0,418.4 332.0,419.5 334.0,420.3 336.0,420.9 338.0,421.3 340.0,421.5 342.0,421.3 344.0,420.8 346.0,419.7 348.0,418.0 350.0,416.2 352.0,414.7 354.0,413.4 356.0,412.0 358.0,410.5 360.0,408.9 362.0,407.4 364.0,405.9 366.0,404.4 368.0,403.0 370.0,401.8 372.0,400.7 374.0,399.7 376.0,399.0 378.0,398.7 380.0,398.7 382.0,399.0 384.0,399.8 386.0,400.7 388.0,401.7 390.0,402.5 392.0,403.2 394.0,403.5 396.0,403.6 398.0,403.5 400.0,403.2 402.0,402.9 404.0,402.5 406.0,402.0 408.0,401.6 410.0,401.1 412.0,400.5 414.0,400.0 416.0,399.5 418.0,398.9 420.0,398.4 422.0,397.9 424.0,397.4 426.0,396.9 428.0,396.5 430.0,396.1 432.0,395.8 434.0,395.5 436.0,395.5 438.0,395.8 440.0,396.4 442.0,397.4 444.0,398.6 446.0,399.3 448.0,399.7 450.0,399.5 452.0,398.6 454.0,396.9 456.0,394.1 458.0,390.8 460.0,387.5 462.0,384.7 464.0,382.1 466.0,379.8 468.0,377.8 470.0,376.4 472.0,375.8 474.0,375.9 476.0,376.8 478.0,378.5 480.0,381.0 482.0,383.2 484.0,384.9 486.0,386.2 488.0,387.2 490.0,387.9 492.0,388.4 494.0,388.7 496.0,388.5 498.0,388.1 500.0,387.5 502.0,386.8 504.0,386.0 506.0,385.1 508.0,384.1 510.0,383.1 512.0,382.0 514.0,380.7 516.0,379.3 518.0,377.9 520.0,376.4 522.0,374.8 524.0,373.3 526.0,371.9 528.0,370.6" fill="none" stroke="rgb(198,95,98)" stroke-width="1.25" stroke-linejoin="round"/>
<path d="M58.0,393.4 60.0,392.6 62.0,391.9 64.0,391.2 66.0,390.5 68.0,389.8 70.0,389.1 72.0,388.5 74.0,387.9 76.0,387.1 78.0,385.5 80.0,384.4 82.0,383.6 84.0,382.9 86.0,382.3 88.0,381.6 90.0,381.0 92.0,380.4 94.0,379.9 96.0,379.4 98.0,379.0 100.0,378.8 102.0,378.8 104.0,378.8 106.0,378.9 108.0,379.2 110.0,379.4 112.0,379.8 114.0,380.2 116.0,380.7 118.0,381.3 120.0,382.1 122.0,383.2 124.0,384.5 126.0,386.0 128.0,388.1 130.0,390.5 132.0,392.3 134.0,393.2 136.0,393.8 138.0,394.0 140.0,394.1 142.0,394.1 144.0,394.0 146.0,393.7 148.0,393.3 150.0,392.6 152.0,391.1 154.0,388.8 156.0,387.6 158.0,387.4 160.0,387.5 162.0,387.8 164.0,388.2 166.0,388.7 168.0,389.2 170.0,389.7 172.0,390.3 174.0,391.0 176.0,391.8 178.0,392.6 180.0,393.6 182.0,395.2 184.0,398.1 186.0,398.6 188.0,398.8 190.0,399.0 192.0,399.2 194.0,399.3 196.0,399.5 198.0,399.6 200.0,399.9 202.0,400.2 204.0,400.9 206.0,403.4 208.0,404.1 210.0,404.7 212.0,405.7 214.0,407.4 216.0,410.2 218.0,413.7 220.0,416.6 222.0,419.4 224.0,421.9 226.0,423.9 228.0,425.5 230.0,426.3 232.0,426.0 234.0,424.7 236.0,422.6 238.0,420.0 240.0,417.0 242.0,413.7 244.0,410.6 246.0,408.2 248.0,406.3 250.0,404.9 252.0,403.8 254.0,403.1 256.0,402.6 258.0,402.3 260.0,402.1 262.0,402.0 264.0,401.9 266.0,401.9 268.0,401.9 270.0,402.0 272.0,402.2 274.0,402.4 276.0,402.7 278.0,403.0 280.0,403.5 282.0,404.2 284.0,404.9 286.0,405.6 288.0,406.4 290.0,407.3 292.0,408.2 294.0,409.0 296.0,409.9 298.0,410.7 300.0,411.4 302.0,411.9 304.0,412.2 306.0,412.4 308.0,412.6 310.0,413.0 312.0,413.6 314.0,414.4 316.0,415.4 318.0,416.8 320.0,418.3 322.0,419.9 324.0,421.5 326.0,423.1 328.0,424.6 330.0,425.9 332.0,427.1 334.0,428.0 336.0,428.8 338.0,429.3 340.0,429.6 342.0,429.5 344.0,429.0 346.0,427.9 348.0,426.0 350.0,424.1 352.0,422.5 354.0,421.1 356.0,419.5 358.0,417.9 360.0,416.2 362.0,414.5 364.0,412.9 366.0,411.3 368.0,409.8 370.0,408.5 372.0,407.2 374.0,406.2 376.0,405.5 378.0,405.1 380.0,405.1 382.0,405.5 384.0,406.3 386.0,407.3 388.0,408.3 390.0,409.2 392.0,409.8 394.0,410.2 396.0,410.2 398.0,410.1 400.0,409.8 402.0,409.5 404.0,409.1 406.0,408.6 408.0,408.2 410.0,407.6 412.0,407.1 414.0,406.6 416.0,406.0 418.0,405.5 420.0,405.0 422.0,404.4 424.0,403.9 426.0,403.5 428.0,403.0 430.0,402.6 432.0,402.3 434.0,402.1 436.0,402.1 438.0,402.4 440.0,403.1 442.0,404.1 444.0,405.3 446.0,406.1 448.0,406.6 450.0,406.5 452.0,405.8 454.0,404.2 456.0,401.6 458.0,398.5 460.0,395.4 462.0,392.8 464.0,390.2 466.0,387.9 468.0,385.9 470.0,384.4 472.0,383.7 474.0,383.6 476.0,384.3 478.0,385.8 480.0,388.4 482.0,390.6 484.0,392.1 486.0,393.3 488.0,394.2 490.0,394.7 492.0,395.1 494.0,395.2 496.0,395.0 498.0,394.6 500.0,393.9 502.0,393.2 504.0,392.5 506.0,391.6 508.0,390.7 510.0,389.7 512.0,388.6 514.0,387.4 516.0,386.1 518.0,384.8 520.0,383.4 522.0,382.0 524.0,380.6 526.0,379.3 528.0,378.1" fill="none" stroke="rgb(192,85,89)" stroke-width="1.25" stroke-linejoin="round"/>
<path d="M58.0,400.3 60.0,399.6 62.0,398.9 64.0,398.2 66.0,397.5 68.0,396.8 70.0,396.2 72.0,395.6 74.0,395.0 76.0,394.2 78.0,392.6 80.0,391.6 82.0,390.8 84.0,390.1 86.0,389.4 88.0,388.8 90.0,388.2 92.0,387.6 94.0,387.1 96.0,386.6 98.0,386.2 100.0,386.0 102.0,385.9 104.0,385.9 106.0,386.0 108.0,386.2 110.0,386.5 112.0,386.8 114.0,387.2 116.0,387.7 118.0,388.3 120.0,389.1 122.0,390.2 124.0,391.5 126.0,393.0 128.0,395.2 130.0,397.7 132.0,399.6 134.0,400.5 136.0,401.1 138.0,401.4 140.0,401.5 142.0,401.5 144.0,401.4 146.0,401.1 148.0,400.7 150.0,400.0 152.0,398.5 154.0,396.1 156.0,394.9 158.0,394.7 160.0,394.9 162.0,395.2 164.0,395.6 166.0,396.0 168.0,396.6 170.0,397.1 172.0,397.7 174.0,398.4 176.0,399.2 178.0,400.1 180.0,401.1 182.0,402.6 184.0,405.6 186.0,406.0 188.0,406.3 190.0,406.5 192.0,406.6 194.0,406.8 196.0,406.9 198.0,407.1 200.0,407.3 202.0,407.6 204.0,408.3 206.0,410.8 208.0,411.4 210.0,412.0 212.0,412.9 214.0,414.4 216.0,417.3 218.0,420.8 220.0,423.8 222.0,426.7 224.0,429.1 226.0,431.2 228.0,432.8 230.0,433.7 232.0,433.4 234.0,432.0 236.0,429.9 238.0,427.2 240.0,424.2 242.0,420.9 244.0,417.7 246.0,415.2 248.0,413.3 250.0,411.8 252.0,410.7 254.0,410.0 256.0,409.5 258.0,409.2 260.0,408.9 262.0,408.8 264.0,408.7 266.0,408.7 268.0,408.8 270.0,408.9 272.0,409.0 274.0,409.2 276.0,409.5 278.0,409.9 280.0,410.5 282.0,411.1 284.0,411.8 286.0,412.6 288.0,413.4 290.0,414.3 292.0,415.2 294.0,416.1 296.0,417.0 298.0,417.7 300.0,418.5 302.0,419.0 304.0,419.3 306.0,419.5 308.0,419.7 310.0,420.1 312.0,420.7 314.0,421.5 316.0,422.6 318.0,423.9 320.0,425.4 322.0,427.1 324.0,428.7 326.0,430.4 328.0,431.9 330.0,433.4 332.0,434.6 334.0,435.7 336.0,436.6 338.0,437.2 340.0,437.6 342.0,437.7 344.0,437.2 346.0,436.0 348.0,434.1 350.0,432.0 352.0,430.3 354.0,428.8 356.0,427.1 358.0,425.3 360.0,423.5 362.0,421.7 364.0,419.9 366.0,418.2 368.0,416.6 370.0,415.1 372.0,413.8 374.0,412.7 376.0,412.0 378.0,411.6 380.0,411.6 382.0,412.0 384.0,412.9 386.0,413.9 388.0,414.9 390.0,415.8 392.0,416.4 394.0,416.8 396.0,416.9 398.0,416.7 400.0,416.5 402.0,416.1 404.0,415.7 406.0,415.2 408.0,414.7 410.0,414.2 412.0,413.7 414.0,413.2 416.0,412.6 418.0,412.1 420.0,411.5 422.0,411.0 424.0,410.5 426.0,410.0 428.0,409.6 430.0,409.2 432.0,408.9 434.0,408.7 436.0,408.7 438.0,409.1 440.0,409.7 442.0,410.8 444.0,412.0 446.0,413.0 448.0,413.6 450.0,413.6 452.0,412.9 454.0,411.5 456.0,409.1 458.0,406.2 460.0,403.3 462.0,400.8 464.0,398.3 466.0,396.0 468.0,394.0 470.0,392.4 472.0,391.5 474.0,391.3 476.0,391.7 478.0,393.2 480.0,395.8 482.0,397.9 484.0,399.4 486.0,400.4 488.0,401.1 490.0,401.5 492.0,401.8 494.0,401.8 496.0,401.5 498.0,401.0 500.0,400.4 502.0,399.7 504.0,399.0 506.0,398.1 508.0,397.3 510.0,396.3 512.0,395.3 514.0,394.2 516.0,393.0 518.0,391.7 520.0,390.4 522.0,389.1 524.0,387.9 526.0,386.6 528.0,385.6" fill="none" stroke="rgb(186,75,79)" stroke-width="1.25" stroke-linejoin="round"/>
<path d="M58.0,407.3 60.0,406.6 62.0,405.9 64.0,405.2 66.0,404.5 68.0,403.9 70.0,403.2 72.0,402.7 74.0,402.1 76.0,401.3 78.0,399.7 80.0,398.7 82.0,398.0 84.0,397.3 86.0,396.6 88.0,396.0 90.0,395.4 92.0,394.8 94.0,394.3 96.0,393.8 98.0,393.4 100.0,393.2 102.0,393.1 104.0,393.1 106.0,393.1 108.0,393.3 110.0,393.6 112.0,393.9 114.0,394.3 116.0,394.7 118.0,395.3 120.0,396.1 122.0,397.1 124.0,398.4 126.0,400.0 128.0,402.2 130.0,404.9 132.0,406.9 134.0,407.9 136.0,408.5 138.0,408.8 140.0,408.9 142.0,408.9 144.0,408.8 146.0,408.5 148.0,408.1 150.0,407.4 152.0,405.9 154.0,403.5 156.0,402.3 158.0,402.1 160.0,402.2 162.0,402.5 164.0,402.9 166.0,403.4 168.0,404.0 170.0,404.5 172.0,405.2 174.0,405.9 176.0,406.7 178.0,407.5 180.0,408.5 182.0,410.1 184.0,413.0 186.0,413.5 188.0,413.7 190.0,413.9 192.0,414.1 194.0,414.2 196.0,414.3 198.0,414.5 200.0,414.7 202.0,415.0 204.0,415.7 206.0,418.1 208.0,418.7 210.0,419.2 212.0,420.0 214.0,421.5 216.0,424.3 218.0,428.0 220.0,431.0 222.0,433.9 224.0,436.4 226.0,438.5 228.0,440.1 230.0,441.0 232.0,440.7 234.0,439.3 236.0,437.2 238.0,434.5 240.0,431.4 242.0,428.0 244.0,424.7 246.0,422.2 248.0,420.2 250.0,418.8 252.0,417.7 254.0,416.9 256.0,416.4 258.0,416.0 260.0,415.8 262.0,415.7 264.0,415.6 266.0,415.6 268.0,415.6 270.0,415.7 272.0,415.9 274.0,416.1 276.0,416.4 278.0,416.8 280.0,417.4 282.0,418.0 284.0,418.8 286.0,419.5 288.0,420.4 290.0,421.3 292.0,422.2 294.0,423.1 296.0,424.0 298.0,424.8 300.0,425.6 302.0,426.1 304.0,426.4 306.0,426.5 308.0,426.8 310.0,427.1 312.0,427.7 314.0,428.6 316.0,429.7 318.0,431.1 320.0,432.6 322.0,434.3 324.0,436.0 326.0,437.7 328.0,439.3 330.0,440.8 332.0,442.2 334.0,443.4 336.0,444.4 338.0,445.2 340.0,445.7 342.0,445.8 344.0,445.5 346.0,444.2 348.0,442.1 350.0,439.9 352.0,438.1 354.0,436.5 356.0,434.7 358.0,432.8 360.0,430.8 362.0,428.9 364.0,427.0 366.0,425.1 368.0,423.4 370.0,421.8 372.0,420.4 374.0,419.2 376.0,418.4 378.0,418.0 380.0,418.1 382.0,418.6 384.0,419.4 386.0,420.5 388.0,421.6 390.0,422.4 392.0,423.1 394.0,423.4 396.0,423.5 398.0,423.3 400.0,423.1 402.0,422.7 404.0,422.3 406.0,421.8 408.0,421.3 410.0,420.8 412.0,420.3 414.0,419.7 416.0,419.2 418.0,418.6 420.0,418.1 422.0,417.6 424.0,417.1 426.0,416.6 428.0,416.1 430.0,415.8 432.0,415.5 434.0,415.3 436.0,415.3 438.0,415.7 440.0,416.4 442.0,417.5 444.0,418.7 446.0,419.8 448.0,420.5 450.0,420.6 452.0,420.0 454.0,418.7 456.0,416.6 458.0,414.0 460.0,411.3 462.0,408.8 464.0,406.4 466.0,404.1 468.0,402.1 470.0,400.5 472.0,399.4 474.0,398.9 476.0,399.2 478.0,400.6 480.0,403.1 482.0,405.3 484.0,406.7 486.0,407.6 488.0,408.1 490.0,408.3 492.0,408.4 494.0,408.3 496.0,408.0 498.0,407.5 500.0,406.9 502.0,406.2 504.0,405.4 506.0,404.6 508.0,403.8 510.0,402.9 512.0,402.0 514.0,400.9 516.0,399.8 518.0,398.7 520.0,397.5 522.0,396.3 524.0,395.1 526.0,394.0 528.0,393.0" fill="none" stroke="rgb(181,66,70)" stroke-width="1.25" stroke-linejoin="round"/>
<path d="M58.0,414.3 60.0,413.6 62.0,412.9 64.0,412.2 66.0,411.6 68.0,410.9 70.0,410.3 72.0,409.7 74.0,409.2 76.0,408.5 78.0,406.8 80.0,405.9 82.0,405.1 84.0,404.5 86.0,403.8 88.0,403.2 90.0,402.6 92.0,402.0 94.0,401.5 96.0,401.0 98.0,400.6 100.0,400.3 102.0,400.2 104.0,400.2 106.0,400.2 108.0,400.4 110.0,400.6 112.0,400.9 114.0,401.3 116.0,401.7 118.0,402.3 120.0,403.0 122.0,404.1 124.0,405.4 126.0,407.0 128.0,409.3 130.0,412.1 132.0,414.1 134.0,415.2 136.0,415.8 138.0,416.2 140.0,416.3 142.0,416.3 144.0,416.2 146.0,415.9 148.0,415.5 150.0,414.8 152.0,413.3 154.0,410.8 156.0,409.6 158.0,409.4 160.0,409.6 162.0,409.9 164.0,410.3 166.0,410.8 168.0,411.3 170.0,411.9 172.0,412.6 174.0,413.3 176.0,414.1 178.0,415.0 180.0,416.0 182.0,417.6 184.0,420.5 186.0,420.9 188.0,421.2 190.0,421.4 192.0,421.5 194.0,421.6 196.0,421.8 198.0,421.9 200.0,422.1 202.0,422.4 204.0,423.1 206.0,425.5 208.0,426.0 210.0,426.5 212.0,427.2 214.0,428.5 216.0,431.4 218.0,435.1 220.0,438.2 222.0,441.1 224.0,443.7 226.0,445.8 228.0,447.5 230.0,448.4 232.0,448.1 234.0,446.7 236.0,444.5 238.0,441.7 240.0,438.7 242.0,435.2 244.0,431.8 246.0,429.2 248.0,427.2 250.0,425.7 252.0,424.6 254.0,423.8 256.0,423.3 258.0,422.9 260.0,422.7 262.0,422.5 264.0,422.4 266.0,422.4 268.0,422.5 270.0,422.6 272.0,422.7 274.0,423.0 276.0,423.3 278.0,423.7 280.0,424.3 282.0,425.0 284.0,425.7 286.0,426.5 288.0,427.4 290.0,428.3 292.0,429.3 294.0,430.2 296.0,431.1 298.0,431.9 300.0,432.7 302.0,433.2 304.0,433.5 306.0,433.6 308.0,433.8 310.0,434.2 312.0,434.8 314.0,435.7 316.0,436.8 318.0,438.2 320.0,439.8 322.0,441.5 324.0,443.2 326.0,445.0 328.0,446.7 330.0,448.3 332.0,449.7 334.0,451.1 336.0,452.2 338.0,453.2 340.0,453.8 342.0,454.0 344.0,453.7 346.0,452.4 348.0,450.2 350.0,447.8 352.0,445.9 354.0,444.2 356.0,442.2 358.0,440.2 360.0,438.1 362.0,436.0 364.0,434.0 366.0,432.0 368.0,430.2 370.0,428.5 372.0,427.0 374.0,425.8 376.0,424.9 378.0,424.5 380.0,424.5 382.0,425.1 384.0,426.0 386.0,427.1 388.0,428.2 390.0,429.1 392.0,429.7 394.0,430.0 396.0,430.1 398.0,430.0 400.0,429.7 402.0,429.3 404.0,428.9 406.0,428.4 408.0,427.9 410.0,427.4 412.0,426.8 414.0,426.3 416.0,425.7 418.0,425.2 420.0,424.6 422.0,424.1 424.0,423.6 426.0,423.1 428.0,422.7 430.0,422.3 432.0,422.0 434.0,421.9 436.0,421.9 438.0,422.3 440.0,423.1 442.0,424.2 444.0,425.5 446.0,426.6 448.0,427.4 450.0,427.6 452.0,427.2 454.0,426.0 456.0,424.1 458.0,421.7 460.0,419.2 462.0,416.8 464.0,414.5 466.0,412.2 468.0,410.2 470.0,408.5 472.0,407.2 474.0,406.6 476.0,406.7 478.0,407.9 480.0,410.5 482.0,412.7 484.0,414.0 486.0,414.7 488.0,415.1 490.0,415.1 492.0,415.1 494.0,414.9 496.0,414.5 498.0,414.0 500.0,413.3 502.0,412.7 504.0,411.9 506.0,411.2 508.0,410.4 510.0,409.5 512.0,408.6 514.0,407.6 516.0,406.6 518.0,405.6 520.0,404.5 522.0,403.5 524.0,402.4 526.0,401.4 528.0,400.4" fill="none" stroke="rgb(175,56,61)" stroke-width="1.25" stroke-linejoin="round"/>
<path d="M58.0,421.3 60.0,420.6 62.0,419.9 64.0,419.2 66.0,418.6 68.0,417.9 70.0,417.3 72.0,416.8 74.0,416.2 76.0,415.6 78.0,413.9 80.0,413.0 82.0,412.3 84.0,411.6 86.0,411.0 88.0,410.4 90.0,409.8 92.0,409.2 94.0,408.7 96.0,408.2 98.0,407.8 100.0,407.5 102.0,407.4 104.0,407.3 106.0,407.3 108.0,407.5 110.0,407.7 112.0,408.0 114.0,408.3 116.0,408.8 118.0,409.3 120.0,410.0 122.0,411.0 124.0,412.3 126.0,413.9 128.0,416.3 130.0,419.3 132.0,421.4 134.0,422.5 136.0,423.2 138.0,423.6 140.0,423.7 142.0,423.7 144.0,423.6 146.0,423.3 148.0,422.9 150.0,422.2 152.0,420.6 154.0,418.2 156.0,417.0 158.0,416.7 160.0,416.9 162.0,417.2 164.0,417.7 166.0,418.2 168.0,418.7 170.0,419.3 172.0,420.0 174.0,420.7 176.0,421.5 178.0,422.4 180.0,423.4 182.0,425.0 184.0,428.0 186.0,428.4 188.0,428.6 190.0,428.8 192.0,428.9 194.0,429.1 196.0,429.2 198.0,429.3 200.0,429.5 202.0,429.8 204.0,430.5 206.0,432.9 208.0,433.4 210.0,433.7 212.0,434.3 214.0,435.6 216.0,438.5 218.0,442.3 220.0,445.4 222.0,448.4 224.0,451.0 226.0,453.1 228.0,454.8 230.0,455.7 232.0,455.5 234.0,454.0 236.0,451.7 238.0,448.9 240.0,445.9 242.0,442.3 244.0,438.8 246.0,436.2 248.0,434.2 250.0,432.7 252.0,431.5 254.0,430.7 256.0,430.2 258.0,429.8 260.0,429.5 262.0,429.3 264.0,429.3 266.0,429.2 268.0,429.3 270.0,429.4 272.0,429.6 274.0,429.8 276.0,430.1 278.0,430.6 280.0,431.2 282.0,431.9 284.0,432.7 286.0,433.5 288.0,434.4 290.0,435.3 292.0,436.3 294.0,437.3 296.0,438.2 298.0,439.0 300.0,439.8 302.0,440.3 304.0,440.6 306.0,440.7 308.0,440.9 310.0,441.3 312.0,441.9 314.0,442.8 316.0,443.9 318.0,445.4 320.0,447.0 322.0,448.7 324.0,450.5 326.0,452.3 328.0,454.0 330.0,455.7 332.0,457.3 334.0,458.7 336.0,460.0 338.0,461.1 340.0,461.9 342.0,462.2 344.0,461.9 346.0,460.6 348.0,458.3 350.0,455.8 352.0,453.7 354.0,451.9 356.0,449.8 358.0,447.6 360.0,445.4 362.0,443.2 364.0,441.0 366.0,438.9 368.0,437.0 370.0,435.2 372.0,433.6 374.0,432.3 376.0,431.4 378.0,430.9 380.0,431.0 382.0,431.6 384.0,432.5 386.0,433.7 388.0,434.8 390.0,435.7 392.0,436.3 394.0,436.7 396.0,436.7 398.0,436.6 400.0,436.3 402.0,435.9 404.0,435.5 406.0,435.0 408.0,434.5 410.0,434.0 412.0,433.4 414.0,432.9 416.0,432.3 418.0,431.7 420.0,431.2 422.0,430.7 424.0,430.2 426.0,429.7 428.0,429.2 430.0,428.9 432.0,428.6 434.0,428.5 436.0,428.5 438.0,428.9 440.0,429.7 442.0,430.8 444.0,432.2 446.0,433.4 448.0,434.4 450.0,434.7 452.0,434.3 454.0,433.3 456.0,431.6 458.0,429.4 460.0,427.1 462.0,424.9 464.0,422.6 466.0,420.3 468.0,418.3 470.0,416.5 472.0,415.1 474.0,414.3 476.0,414.2 478.0,415.3 480.0,417.9 482.0,420.0 484.0,421.2 486.0,421.8 488.0,422.0 490.0,421.9 492.0,421.7 494.0,421.4 496.0,421.0 498.0,420.4 500.0,419.8 502.0,419.1 504.0,418.4 506.0,417.7 508.0,416.9 510.0,416.1 512.0,415.3 514.0,414.4 516.0,413.5 518.0,412.5 520.0,411.6 522.0,410.6 524.0,409.7 526.0,408.7 528.0,407.9" fill="none" stroke="rgb(170,46,52)" stroke-width="1.25" stroke-linejoin="round"/>
<path d="M58.0,428.2 60.0,427.6 62.0,426.9 64.0,426.2 66.0,425.6 68.0,425.0 70.0,424.4 72.0,423.9 74.0,423.3 76.0,422.7 78.0,421.0 80.0,420.2 82.0,419.5 84.0,418.8 86.0,418.2 88.0,417.6 90.0,417.0 92.0,416.4 94.0,415.9 96.0,415.4 98.0,415.0 100.0,414.7 102.0,414.5 104.0,414.4 106.0,414.4 108.0,414.6 110.0,414.8 112.0,415.0 114.0,415.4 116.0,415.8 118.0,416.3 120.0,417.0 122.0,418.0 124.0,419.3 126.0,420.9 128.0,423.4 130.0,426.5 132.0,428.7 134.0,429.9 136.0,430.6 138.0,430.9 140.0,431.1 142.0,431.1 144.0,431.0 146.0,430.7 148.0,430.3 150.0,429.6 152.0,428.0 154.0,425.5 156.0,424.3 158.0,424.1 160.0,424.2 162.0,424.6 164.0,425.0 166.0,425.6 168.0,426.1 170.0,426.7 172.0,427.4 174.0,428.1 176.0,429.0 178.0,429.9 180.0,430.9 182.0,432.5 184.0,435.4 186.0,435.9 188.0,436.1 190.0,436.2 192.0,436.4 194.0,436.5 196.0,436.6 198.0,436.7 200.0,436.9 202.0,437.2 204.0,437.9 206.0,440.3 208.0,440.7 210.0,441.0 212.0,441.5 214.0,442.6 216.0,445.5 218.0,449.4 220.0,452.6 222.0,455.6 224.0,458.3 226.0,460.4 228.0,462.1 230.0,463.1 232.0,462.8 234.0,461.3 236.0,459.0 238.0,456.2 240.0,453.1 242.0,449.5 244.0,445.9 246.0,443.2 248.0,441.2 250.0,439.6 252.0,438.5 254.0,437.6 256.0,437.0 258.0,436.6 260.0,436.4 262.0,436.2 264.0,436.1 266.0,436.1 268.0,436.1 270.0,436.3 272.0,436.4 274.0,436.7 276.0,437.0 278.0,437.5 280.0,438.1 282.0,438.8 284.0,439.6 286.0,440.5 288.0,441.4 290.0,442.4 292.0,443.4 294.0,444.3 296.0,445.3 298.0,446.1 300.0,446.9 302.0,447.4 304.0,447.7 306.0,447.8 308.0,447.9 310.0,448.3 312.0,448.9 314.0,449.9 316.0,451.1 318.0,452.5 320.0,454.2 322.0,455.9 324.0,457.8 326.0,459.6 328.0,461.4 330.0,463.2 332.0,464.9 334.0,466.4 336.0,467.9 338.0,469.1 340.0,469.9 342.0,470.3 344.0,470.1 346.0,468.8 348.0,466.3 350.0,463.7 352.0,461.5 354.0,459.6 356.0,457.4 358.0,455.1 360.0,452.7 362.0,450.4 364.0,448.1 366.0,445.9 368.0,443.8 370.0,441.8 372.0,440.2 374.0,438.8 376.0,437.8 378.0,437.4 380.0,437.5 382.0,438.1 384.0,439.1 386.0,440.3 388.0,441.4 390.0,442.3 392.0,443.0 394.0,443.3 396.0,443.4 398.0,443.2 400.0,442.9 402.0,442.5 404.0,442.1 406.0,441.6 408.0,441.1 410.0,440.5 412.0,440.0 414.0,439.4 416.0,438.9 418.0,438.3 420.0,437.8 422.0,437.2 424.0,436.7 426.0,436.2 428.0,435.8 430.0,435.4 432.0,435.2 434.0,435.0 436.0,435.1 438.0,435.6 440.0,436.4 442.0,437.5 444.0,438.9 446.0,440.3 448.0,441.3 450.0,441.7 452.0,441.4 454.0,440.6 456.0,439.1 458.0,437.2 460.0,435.1 462.0,432.9 464.0,430.7 466.0,428.5 468.0,426.4 470.0,424.5 472.0,423.0 474.0,421.9 476.0,421.7 478.0,422.7 480.0,425.2 482.0,427.4 484.0,428.5 486.0,428.9 488.0,429.0 490.0,428.8 492.0,428.4 494.0,428.0 496.0,427.5 498.0,426.9 500.0,426.3 502.0,425.6 504.0,424.9 506.0,424.2 508.0,423.5 510.0,422.7 512.0,421.9 514.0,421.1 516.0,420.3 518.0,419.5 520.0,418.6 522.0,417.8 524.0,416.9 526.0,416.1 528.0,415.4" fill="none" stroke="rgb(165,37,43)" stroke-width="1.25" stroke-linejoin="round"/>
<path d="M58.0,435.2 60.0,434.6 62.0,433.9 64.0,433.3 66.0,432.6 68.0,432.0 70.0,431.4 72.0,430.9 74.0,430.4 76.0,429.8 78.0,428.1 80.0,427.3 82.0,426.6 84.0,426.0 86.0,425.4 88.0,424.7 90.0,424.2 92.0,423.6 94.0,423.1 96.0,422.6 98.0,422.2 100.0,421.8 102.0,421.6 104.0,421.5 106.0,421.5 108.0,421.6 110.0,421.8 112.0,422.1 114.0,422.4 116.0,422.8 118.0,423.3 120.0,424.0 122.0,425.0 124.0,426.2 126.0,427.9 128.0,430.5 130.0,433.7 132.0,436.0 134.0,437.2 136.0,437.9 138.0,438.3 140.0,438.5 142.0,438.5 144.0,438.4 146.0,438.1 148.0,437.7 150.0,437.0 152.0,435.4 154.0,432.9 156.0,431.6 158.0,431.4 160.0,431.6 162.0,431.9 164.0,432.4 166.0,432.9 168.0,433.5 170.0,434.1 172.0,434.8 174.0,435.6 176.0,436.4 178.0,437.3 180.0,438.3 182.0,439.9 184.0,442.9 186.0,443.3 188.0,443.5 190.0,443.7 192.0,443.8 194.0,443.9 196.0,444.0 198.0,444.1 200.0,444.3 202.0,444.6 204.0,445.3 206.0,447.7 208.0,448.0 210.0,448.2 212.0,448.6 214.0,449.7 216.0,452.6 218.0,456.6 220.0,459.8 222.0,462.9 224.0,465.5 226.0,467.7 228.0,469.5 230.0,470.4 232.0,470.2 234.0,468.6 236.0,466.3 238.0,463.4 240.0,460.4 242.0,456.6 244.0,452.9 246.0,450.2 248.0,448.1 250.0,446.6 252.0,445.4 254.0,444.5 256.0,443.9 258.0,443.5 260.0,443.2 262.0,443.0 264.0,442.9 266.0,442.9 268.0,443.0 270.0,443.1 272.0,443.3 274.0,443.5 276.0,443.9 278.0,444.4 280.0,445.0 282.0,445.8 284.0,446.6 286.0,447.4 288.0,448.4 290.0,449.4 292.0,450.4 294.0,451.4 296.0,452.3 298.0,453.2 300.0,454.0 302.0,454.5 304.0,454.7 306.0,454.8 308.0,455.0 310.0,455.4 312.0,456.0 314.0,457.0 316.0,458.2 318.0,459.7 320.0,461.4 322.0,463.2 324.0,465.0 326.0,466.9 328.0,468.8 330.0,470.6 332.0,472.4 334.0,474.1 336.0,475.7 338.0,477.0 340.0,478.0 342.0,478.5 344.0,478.3 346.0,477.0 348.0,474.4 350.0,471.6 352.0,469.3 354.0,467.2 356.0,464.9 358.0,462.5 360.0,460.0 362.0,457.5 364.0,455.1 366.0,452.8 368.0,450.6 370.0,448.5 372.0,446.7 374.0,445.3 376.0,444.3 378.0,443.8 380.0,443.9 382.0,444.6 384.0,445.7 386.0,446.9 388.0,448.1 390.0,449.0 392.0,449.6 394.0,449.9 396.0,450.0 398.0,449.8 400.0,449.5 402.0,449.1 404.0,448.7 406.0,448.2 408.0,447.7 410.0,447.1 412.0,446.6 414.0,446.0 416.0,445.4 418.0,444.9 420.0,444.3 422.0,443.8 424.0,443.3 426.0,442.8 428.0,442.4 430.0,442.0 432.0,441.7 434.0,441.6 436.0,441.7 438.0,442.2 440.0,443.0 442.0,444.2 444.0,445.6 446.0,447.1 448.0,448.2 450.0,448.7 452.0,448.6 454.0,447.8 456.0,446.6 458.0,444.9 460.0,443.0 462.0,440.9 464.0,438.8 466.0,436.6 468.0,434.5 470.0,432.5 472.0,430.8 474.0,429.6 476.0,429.1 478.0,430.0 480.0,432.6 482.0,434.8 484.0,435.8 486.0,436.0 488.0,435.9 490.0,435.6 492.0,435.1 494.0,434.5 496.0,434.0 498.0,433.4 500.0,432.7 502.0,432.1 504.0,431.4 506.0,430.7 508.0,430.0 510.0,429.3 512.0,428.6 514.0,427.9 516.0,427.1 518.0,426.4 520.0,425.7 522.0,424.9 524.0,424.2 526.0,423.5 528.0,422.8" fill="none" stroke="rgb(160,28,34)" stroke-width="1.25" stroke-linejoin="round"/>
<rect x="58.2" y="303.6" width="470" height="182.6" fill="none" stroke="#111" stroke-width="1.3"/>
<path d="M58.00,486.2 v3.2" stroke="#111" stroke-width="1.2"/>
<text x="58.00" y="502.5" font-family="Liberation Sans" font-weight="bold" font-size="12" text-anchor="middle">1150</text>
<path d="M110.22,486.2 v3.2" stroke="#111" stroke-width="1.2"/>
<text x="110.22" y="502.5" font-family="Liberation Sans" font-weight="bold" font-size="12" text-anchor="middle">1100</text>
<path d="M162.44,486.2 v3.2" stroke="#111" stroke-width="1.2"/>
<text x="162.44" y="502.5" font-family="Liberation Sans" font-weight="bold" font-size="12" text-anchor="middle">1050</text>
<path d="M214.67,486.2 v3.2" stroke="#111" stroke-width="1.2"/>
<text x="214.67" y="502.5" font-family="Liberation Sans" font-weight="bold" font-size="12" text-anchor="middle">1000</text>
<path d="M266.89,486.2 v3.2" stroke="#111" stroke-width="1.2"/>
<text x="266.89" y="502.5" font-family="Liberation Sans" font-weight="bold" font-size="12" text-anchor="middle">950</text>
<path d="M319.11,486.2 v3.2" stroke="#111" stroke-width="1.2"/>
<text x="319.11" y="502.5" font-family="Liberation Sans" font-weight="bold" font-size="12" text-anchor="middle">900</text>
<path d="M371.33,486.2 v3.2" stroke="#111" stroke-width="1.2"/>
<text x="371.33" y="502.5" font-family="Liberation Sans" font-weight="bold" font-size="12" text-anchor="middle">850</text>
<path d="M423.56,486.2 v3.2" stroke="#111" stroke-width="1.2"/>
<text x="423.56" y="502.5" font-family="Liberation Sans" font-weight="bold" font-size="12" text-anchor="middle">800</text>
<path d="M475.78,486.2 v3.2" stroke="#111" stroke-width="1.2"/>
<text x="475.78" y="502.5" font-family="Liberation Sans" font-weight="bold" font-size="12" text-anchor="middle">750</text>
<path d="M528.00,486.2 v3.2" stroke="#111" stroke-width="1.2"/>
<text x="528.00" y="502.5" font-family="Liberation Sans" font-weight="bold" font-size="12" text-anchor="middle">700</text>
<text x="302" y="523" font-family="Liberation Sans" font-weight="bold" font-size="12.3" text-anchor="middle">Wavenumber (cm<tspan font-size="8.5" dy="-5">-1</tspan><tspan dy="5">)</tspan></text>
<text transform="translate(42,382.5) rotate(-90)" font-family="Liberation Sans" font-weight="bold" font-size="12.3" text-anchor="middle">Transmittance (a.u.)</text>
<text x="17.5" y="305" font-family="Liberation Sans" font-weight="bold" font-size="29">c</text>
<text x="140.5" y="326.5" font-family="Liberation Sans" font-weight="bold" font-size="11" fill="#e57676" text-anchor="middle">100%</text>
<text x="140.5" y="449.5" font-family="Liberation Sans" font-weight="bold" font-size="11" fill="#c0282a" text-anchor="middle">138%</text>
<text x="146" y="466.9" font-family="Liberation Sans" font-weight="bold" font-size="11" text-anchor="middle">adsorbed CO<tspan font-size="8" dy="3">2</tspan></text>
<text x="305" y="345.6" font-family="Liberation Sans" font-weight="bold" font-size="11" fill="#e57676" text-anchor="middle">100%</text>
<text x="305" y="473.5" font-family="Liberation Sans" font-weight="bold" font-size="11" fill="#c0282a" text-anchor="middle">224%</text>
<text x="336.5" y="355.5" font-family="Liberation Sans" font-weight="bold" font-size="11.5" text-anchor="middle">887</text>
<text x="446.5" y="343.5" font-family="Liberation Sans" font-weight="bold" font-size="11.5" text-anchor="middle">775</text>
<text x="395" y="325" font-family="Liberation Sans" font-weight="bold" font-size="12.6" text-anchor="middle">styrene oxide</text>
<path d="M344.5,342.5 L360,325.5 M422.5,326 L437.5,332" stroke="#222" stroke-width="0.9" fill="none"/>
<text x="535.5" y="314.5" font-family="Liberation Sans" font-weight="bold" font-size="10.8" fill="#e58a8a">Dark</text>
<text x="534.5" y="326.5" font-family="Liberation Sans" font-weight="bold" font-size="11" fill="#c0282a">2 min</text>
<text x="532.2" y="429" font-family="Liberation Sans" font-weight="bold" font-size="11.1" fill="#c0282a">30 min</text>
<path d="M568.2,318.5 V432" stroke="#333" stroke-width="1.1"/>
<path d="M566,428 L568.2,434.5 L570.4,428 Z" fill="#333"/>
<text transform="translate(572.3,371.9) rotate(90)" font-family="Liberation Sans" font-size="13" fill="#4a4a4a" stroke="#4a4a4a" stroke-width="0.3" text-anchor="middle">Light</text>
<defs>
<radialGradient id="bgGlow" gradientUnits="userSpaceOnUse" cx="320" cy="778" r="282">
<stop offset="0" stop-color="#fffffc"/><stop offset="0.45" stop-color="#fffff2"/><stop offset="0.64" stop-color="#fefee2"/><stop offset="0.78" stop-color="#fdfcd3"/><stop offset="0.88" stop-color="#fefddf"/><stop offset="0.95" stop-color="#fffef2"/><stop offset="1" stop-color="#ffffff"/></radialGradient>
<radialGradient id="sunG" gradientUnits="userSpaceOnUse" cx="371.6" cy="700" r="57">
<stop offset="0" stop-color="#ffffff"/><stop offset="0.06" stop-color="#fffde0"/><stop offset="0.2" stop-color="#ffe030"/><stop offset="0.33" stop-color="#ffc000"/><stop offset="0.4" stop-color="#f08a00"/><stop offset="0.45" stop-color="#e27000"/><stop offset="0.52" stop-color="#f29c00"/><stop offset="0.65" stop-color="#f9b410"/><stop offset="0.85" stop-color="#fcc430"/><stop offset="1" stop-color="#fdd050"/></radialGradient>
<linearGradient id="boltL" gradientUnits="userSpaceOnUse" x1="336" y1="738" x2="296" y2="785">
<stop offset="0" stop-color="#ffeb00"/><stop offset="0.5" stop-color="#f9d48e"/><stop offset="1" stop-color="#fbe5a8"/></linearGradient>
<linearGradient id="boltR" gradientUnits="userSpaceOnUse" x1="420" y1="735" x2="466" y2="792">
<stop offset="0" stop-color="#ffeb00"/><stop offset="0.5" stop-color="#f9d48e"/><stop offset="1" stop-color="#fbe5a8"/></linearGradient>
<filter id="blur" x="-50%" y="-50%" width="200%" height="200%"><feGaussianBlur stdDeviation="3.6"/></filter>
<filter id="blur2" x="-80%" y="-80%" width="260%" height="260%"><feGaussianBlur stdDeviation="2.2"/></filter>
<filter id="blurS" x="-20%" y="-20%" width="140%" height="140%"><feGaussianBlur stdDeviation="1.6"/></filter>
<filter id="blurBig" x="-50%" y="-50%" width="200%" height="200%"><feGaussianBlur stdDeviation="8"/></filter>
</defs>
<rect x="0" y="532" width="640" height="510" fill="url(#bgGlow)"/>
<circle cx="371.6" cy="700" r="50" fill="#fdf6d0" opacity="0.6" filter="url(#blurBig)"/>
<polygon points="371.60,643.00 380.40,667.16 400.10,650.64 395.64,675.96 420.96,671.50 404.44,691.20 428.60,700.00 404.44,708.80 420.96,728.50 395.64,724.04 400.10,749.36 380.40,732.84 371.60,757.00 362.80,732.84 343.10,749.36 347.56,724.04 322.24,728.50 338.76,708.80 314.60,700.00 338.76,691.20 322.24,671.50 347.56,675.96 343.10,650.64 362.80,667.16" fill="url(#sunG)" filter="url(#blurS)"/>
<polygon points="329.2,733.9 343.9,747.3 326.6,756.9 330.8,761.1 314.8,770 318.1,773.5 293.75,785 309.7,766.2 306.9,763.2 320,751.7 317.4,748.9" fill="url(#boltL)"/>
<polygon points="425.6,727.5 438.75,745.6 435,749 450.6,763.75 446.9,767.5 466.9,792.5 434.4,774.4 438.75,771.25 419.4,759.4 425,755 403.75,741.9" fill="url(#boltR)"/>
<circle cx="261.00" cy="582.20" r="10.20" fill="#f36866" opacity="0.92" filter="url(#blur)"/>
<circle cx="406.70" cy="619.00" r="10.20" fill="#f36866" opacity="0.92" filter="url(#blur)"/>
<circle cx="419.4" cy="600.5" r="6.3" fill="#3aaee6" filter="url(#blur2)"/>
<circle cx="471.4" cy="719.7" r="6.3" fill="#3aaee6" filter="url(#blur2)"/>
<circle cx="544.40" cy="611.30" r="9.60" fill="#a57ad0" opacity="0.90" filter="url(#blur)"/>
<circle cx="147.50" cy="692.80" r="10.20" fill="#f36866" opacity="0.92" filter="url(#blur)"/>
<circle cx="173.00" cy="706.40" r="6.00" fill="#3cc06a" opacity="0.90" filter="url(#blur)"/>
<circle cx="285.5" cy="694.5" r="4.6" fill="#3cc06a" opacity="0.9" filter="url(#blur2)"/>
<circle cx="273.9" cy="757.3" r="12" fill="#fff000" filter="url(#blur2)"/>
<circle cx="472" cy="804.7" r="12" fill="#fff000" filter="url(#blur2)"/>
<path d="M357.98,578.09 A134.40,134.40 0 0 1 494.66,807.92" fill="none" stroke="#7b3fa6" stroke-width="1.5"/>
<path d="M399.70,599.70 L398.44,598.31 L397.14,596.96 L395.80,595.65 L394.42,594.38 L393.00,593.15 L391.54,591.97 L390.05,590.84 L388.52,589.75 L386.96,588.71 L385.37,587.72 L383.74,586.77 L382.09,585.88 L380.42,585.04 L378.72,584.25 L376.99,583.51 L375.24,582.83 L373.48,582.20 L371.69,581.63 L369.89,581.11 L368.07,580.65 L366.24,580.24 L364.40,579.89 L362.54,579.60 L360.68,579.36 L358.82,579.19 L356.94,579.07 L355.07,579.00 L353.19,579.00 L351.32,579.05 L349.45,579.16 L347.58,579.33 L345.72,579.56 L343.86,579.84 L342.02,580.18 L340.18,580.58 L338.36,581.03" fill="none" stroke="#2477bd" stroke-width="1.60" stroke-linecap="round" stroke-linejoin="round"/><path d="M331.25,583.40 L337.07,578.09 L336.37,581.69 L339.09,584.16 Z" fill="#2477bd"/>
<path d="M244.50,594.20 L242.69,594.51 L240.89,594.87 L239.09,595.27 L237.31,595.71 L235.54,596.20 L233.78,596.74 L232.04,597.32 L230.31,597.94 L228.60,598.60 L226.90,599.31 L225.22,600.06 L223.56,600.85 L221.93,601.68 L220.31,602.56 L218.71,603.47 L217.14,604.42 L215.60,605.42 L214.08,606.45 L212.58,607.52 L211.11,608.62 L209.67,609.76 L208.26,610.94 L206.88,612.15 L205.53,613.40 L204.22,614.68 L202.93,615.99 L201.68,617.34 L200.46,618.71 L199.28,620.12 L198.13,621.55 L197.02,623.02 L195.94,624.51 L194.90,626.02 L193.91,627.57 L192.95,629.13 L192.02,630.72" fill="none" stroke="#2477bd" stroke-width="1.60" stroke-linecap="round" stroke-linejoin="round"/><path d="M188.75,637.30 L189.09,629.43 L191.16,632.47 L194.82,632.28 Z" fill="#2477bd"/>
<path d="M256.60,687.20 L256.27,685.03 L255.84,682.87 L255.32,680.73 L254.71,678.62 L254.02,676.53 L253.23,674.48 L252.36,672.46 L251.41,670.48 L250.37,668.54 L249.25,666.65 L248.05,664.81 L246.77,663.02 L245.42,661.28 L244.00,659.61 L242.50,657.99 L240.94,656.45 L239.32,654.96 L237.63,653.55 L235.88,652.22 L234.08,650.95 L232.23,649.77 L230.33,648.66 L228.39,647.64 L226.40,646.70 L224.37,645.84 L222.31,645.07 L220.22,644.39 L218.10,643.80 L215.96,643.30 L213.80,642.89 L211.63,642.58 L209.44,642.35 L207.24,642.22 L205.05,642.18 L202.85,642.24 L200.65,642.38" fill="none" stroke="#20a452" stroke-width="1.60" stroke-linecap="round" stroke-linejoin="round"/><path d="M192.00,643.90 L198.54,639.51 L197.32,642.97 L199.64,645.81 Z" fill="#20a452"/>
<path d="M483.00,703.20 L482.95,702.57 L482.91,701.82 L482.87,700.97 L482.82,700.02 L482.78,698.98 L482.72,697.88 L482.66,696.70 L482.59,695.48 L482.51,694.21 L482.42,692.90 L482.31,691.58 L482.19,690.24 L482.05,688.91 L481.89,687.58 L481.71,686.28 L481.50,685.00 L481.28,683.71 L481.04,682.37 L480.79,680.99 L480.52,679.57 L480.24,678.12 L479.95,676.65 L479.64,675.18 L479.31,673.71 L478.97,672.24 L478.60,670.79 L478.22,669.37 L477.82,667.99 L477.40,666.65 L476.95,665.37 L476.49,664.15 L476.00,663.00 L475.46,661.90 L474.85,660.81 L474.19,659.75 L473.48,658.71 L472.74,657.70 L471.97,656.72 L471.19,655.78 L470.41,654.88" fill="none" stroke="#2477bd" stroke-width="1.60" stroke-linecap="round" stroke-linejoin="round"/><path d="M465.50,649.50 L472.72,652.66 L469.14,653.49 L467.99,656.98 Z" fill="#2477bd"/>
<path d="M477.60,666.50 L477.80,666.80 L478.03,667.18 L478.29,667.62 L478.58,668.11 L478.89,668.65 L479.22,669.22 L479.58,669.82 L479.96,670.44 L480.35,671.07 L480.76,671.70 L481.19,672.32 L481.63,672.92 L482.09,673.50 L482.55,674.05 L483.02,674.55 L483.50,675.00 L483.99,675.41 L484.51,675.82 L485.05,676.20 L485.61,676.57 L486.18,676.93 L486.77,677.28 L487.37,677.61 L487.98,677.93 L488.60,678.23 L489.23,678.52 L489.86,678.80 L490.49,679.06 L491.12,679.32 L491.75,679.56 L492.38,679.78 L493.00,680.00 L493.64,680.20 L494.31,680.38 L495.01,680.55 L495.74,680.70 L496.48,680.83 L497.22,680.95 L497.96,681.06 L498.69,681.16 L499.41,681.25 L500.09,681.33 L500.74,681.41 L501.35,681.47 L501.91,681.53 L502.41,681.59 L502.84,681.65 L503.20,681.70" fill="none" stroke="#e11a1c" stroke-width="1.60" stroke-linecap="round"/>
<path d="M481.70,825.50 L482.04,824.95 L482.45,824.29 L482.94,823.52 L483.50,822.66 L484.10,821.72 L484.74,820.71 L485.41,819.66 L486.10,818.56 L486.80,817.44 L487.49,816.31 L488.17,815.18 L488.83,814.06 L489.45,812.97 L490.03,811.92 L490.55,810.93 L491.00,810.00 L491.41,809.13 L491.79,808.28 L492.15,807.47 L492.50,806.67 L492.82,805.89 L493.12,805.13 L493.40,804.37 L493.66,803.61 L493.90,802.84 L494.12,802.07 L494.32,801.29 L494.49,800.49 L494.65,799.66 L494.79,798.81 L494.90,797.92 L495.00,797.00 L495.06,796.01 L495.09,794.93 L495.07,793.79 L495.03,792.59 L494.96,791.36 L494.86,790.10 L494.75,788.84 L494.62,787.59" fill="none" stroke="#2477bd" stroke-width="1.60" stroke-linecap="round" stroke-linejoin="round"/><path d="M493.75,779.80 L497.73,786.60 L494.35,785.17 L491.37,787.31 Z" fill="#2477bd"/>
<path d="M289.50,792.50 L289.70,791.97 L289.96,791.35 L290.26,790.65 L290.60,789.88 L290.97,789.04 L291.37,788.14 L291.78,787.18 L292.20,786.17 L292.62,785.11 L293.04,784.01 L293.44,782.88 L293.83,781.72 L294.18,780.54 L294.50,779.33 L294.78,778.12 L295.00,776.90 L295.19,775.65 L295.37,774.33 L295.54,772.97 L295.70,771.56 L295.84,770.11 L295.96,768.63 L296.06,767.12 L296.14,765.59 L296.19,764.04 L296.23,762.49 L296.23,760.94 L296.21,759.40 L296.16,757.86 L296.07,756.35 L295.95,754.86 L295.80,753.40 L295.59,751.92 L295.31,750.38 L294.97,748.78 L294.58,747.16 L294.14,745.51 L293.68,743.87 L293.20,742.23 L292.70,740.63 L292.20,739.07" fill="none" stroke="#20a452" stroke-width="1.60" stroke-linecap="round" stroke-linejoin="round"/><path d="M289.50,730.80 L294.78,736.65 L291.18,735.93 L288.69,738.64 Z" fill="#20a452"/>
<path d="M282.50,898.75 L282.23,898.10 L281.89,897.31 L281.49,896.41 L281.04,895.41 L280.54,894.32 L280.02,893.15 L279.47,891.91 L278.91,890.62 L278.34,889.30 L277.78,887.95 L277.23,886.58 L276.70,885.21 L276.20,883.86 L275.75,882.53 L275.35,881.24 L275.00,880.00 L274.70,878.78 L274.42,877.54 L274.17,876.29 L273.94,875.03 L273.72,873.76 L273.53,872.48 L273.36,871.20 L273.20,869.92 L273.07,868.64 L272.94,867.37 L272.84,866.11 L272.74,864.85 L272.67,863.61 L272.60,862.39 L272.54,861.18 L272.50,860.00 L272.48,858.81 L272.49,857.57 L272.52,856.31 L272.58,855.04 L272.66,853.76 L272.75,852.49 L272.85,851.23 L272.97,850.00" fill="none" stroke="#20a452" stroke-width="1.60" stroke-linecap="round" stroke-linejoin="round"/><path d="M273.75,842.50 L276.19,849.99 L273.19,847.87 L269.82,849.33 Z" fill="#20a452"/>
<path d="M292.00,875.50 L291.52,875.36 L290.92,875.19 L290.22,875.01 L289.43,874.81 L288.56,874.59 L287.64,874.36 L286.68,874.11 L285.69,873.84 L284.69,873.56 L283.70,873.27 L282.73,872.96 L281.79,872.64 L280.91,872.31 L280.10,871.97 L279.38,871.61 L278.75,871.25 L278.20,870.86 L277.70,870.42 L277.23,869.94 L276.80,869.43 L276.41,868.89 L276.05,868.35 L275.72,867.79 L275.42,867.23 L275.15,866.69 L274.90,866.16 L274.67,865.65 L274.46,865.17 L274.26,864.74 L274.08,864.35 L273.91,864.02 L273.75,863.75" fill="none" stroke="#20a452" stroke-width="1.60" stroke-linecap="round"/>
<path d="M349.70,917.70 L350.49,917.63 L351.45,917.55 L352.56,917.46 L353.81,917.36 L355.17,917.25 L356.62,917.14 L358.14,917.01 L359.72,916.88 L361.34,916.74 L362.97,916.59 L364.60,916.43 L366.20,916.26 L367.77,916.09 L369.27,915.90 L370.68,915.70 L372.00,915.50 L373.25,915.29 L374.48,915.08 L375.70,914.86 L376.90,914.64 L378.08,914.41 L379.24,914.18 L380.39,913.93 L381.52,913.67 L382.63,913.40 L383.73,913.12 L384.81,912.82 L385.88,912.50 L386.93,912.16 L387.97,911.79 L388.99,911.41 L390.00,911.00 L390.99,910.57 L391.96,910.12 L392.92,909.65 L393.85,909.17 L394.77,908.66 L395.67,908.14 L396.56,907.60 L397.44,907.05 L398.30,906.47 L399.15,905.88 L399.98,905.28 L400.80,904.65 L401.62,904.01 L402.42,903.36 L403.21,902.69 L404.00,902.00 L404.79,901.26 L405.59,900.46 L406.41,899.59 L407.22,898.68 L408.03,897.73 L408.83,896.76 L409.61,895.78 L410.38,894.81" fill="none" stroke="#2477bd" stroke-width="1.60" stroke-linecap="round" stroke-linejoin="round"/><path d="M415.00,888.75 L413.18,896.42 L411.72,893.04 L408.09,892.53 Z" fill="#2477bd"/>
<path d="M398.75,932.50 L398.79,931.88 L398.82,931.12 L398.85,930.23 L398.89,929.24 L398.92,928.16 L398.96,927.00 L399.01,925.79 L399.06,924.53 L399.13,923.25 L399.20,921.97 L399.29,920.69 L399.39,919.43 L399.52,918.22 L399.66,917.07 L399.82,915.99 L400.00,915.00 L400.22,914.06 L400.48,913.11 L400.78,912.17 L401.10,911.23 L401.45,910.30 L401.82,909.40 L402.20,908.51 L402.58,907.66 L402.96,906.83 L403.33,906.05 L403.68,905.32 L404.01,904.63 L404.32,904.00 L404.59,903.43 L404.82,902.93 L405.00,902.50" fill="none" stroke="#2477bd" stroke-width="1.60" stroke-linecap="round"/>
<path d="M193.70,879.50 L194.11,880.01 L194.60,880.64 L195.15,881.36 L195.75,882.16 L196.42,883.04 L197.13,883.99 L197.88,884.97 L198.68,886.00 L199.50,887.05 L200.36,888.11 L201.24,889.17 L202.13,890.21 L203.04,891.23 L203.96,892.21 L204.88,893.14 L205.80,894.00 L206.73,894.82 L207.67,895.64 L208.64,896.45 L209.62,897.25 L210.63,898.05 L211.65,898.83 L212.70,899.60 L213.76,900.36 L214.85,901.11 L215.95,901.85 L217.08,902.58 L218.22,903.29 L219.39,903.99 L220.57,904.67 L221.78,905.35 L223.00,906.00 L224.25,906.64 L225.53,907.28 L226.83,907.92 L228.16,908.54 L229.50,909.15 L230.87,909.75 L232.26,910.34 L233.67,910.91 L235.09,911.46 L236.52,911.99 L237.97,912.51 L239.42,913.00 L240.88,913.46 L242.35,913.90 L243.83,914.32 L245.30,914.70 L246.83,915.05 L248.46,915.38 L250.16,915.67 L251.93,915.94 L253.73,916.19 L255.54,916.41 L257.35,916.61 L259.14,916.79 L260.89,916.96 L262.57,917.11" fill="none" stroke="#161b36" stroke-width="1.80" stroke-linecap="round" stroke-linejoin="round"/><path d="M270.20,917.80 L262.74,920.34 L264.82,917.31 L263.32,913.96 Z" fill="#161b36"/>
<path d="M193.70,879.50 L193.96,880.18 L194.31,880.98 L194.74,881.90 L195.22,882.92 L195.75,884.03 L196.31,885.22 L196.89,886.48 L197.47,887.79 L198.04,889.16 L198.59,890.57 L199.10,892.00 L199.56,893.45 L199.95,894.90 L200.26,896.35 L200.49,897.79 L200.60,899.20 L200.60,900.66 L200.50,902.23 L200.31,903.90 L200.05,905.64 L199.72,907.43 L199.34,909.25 L198.92,911.07 L198.48,912.88 L198.02,914.65 L197.57,916.36" fill="none" stroke="#161b36" stroke-width="1.80" stroke-linecap="round" stroke-linejoin="round"/><path d="M195.50,924.10 L194.26,916.32 L196.89,918.88 L200.45,917.97 Z" fill="#161b36"/>
<path d="M147.70,737.30 L147.40,738.09 L147.01,739.04 L146.55,740.12 L146.02,741.32 L145.45,742.64 L144.84,744.05 L144.21,745.54 L143.57,747.09 L142.93,748.69 L142.30,750.32 L141.70,751.97 L141.13,753.63 L140.62,755.28 L140.16,756.90 L139.79,758.48 L139.50,760.00 L139.28,761.50 L139.10,763.03 L138.96,764.58 L138.85,766.15 L138.78,767.73 L138.74,769.32 L138.74,770.91 L138.77,772.51 L138.83,774.11 L138.92,775.71 L139.03,777.29 L139.18,778.87 L139.35,780.43 L139.54,781.98 L139.76,783.50 L140.00,785.00 L140.29,786.52 L140.65,788.09 L141.08,789.69 L141.56,791.33 L142.08,792.97 L142.63,794.61 L143.20,796.23 L143.78,797.81 L144.36,799.35" fill="none" stroke="#161b36" stroke-width="1.80" stroke-linecap="round" stroke-linejoin="round"/><path d="M147.50,807.50 L141.93,801.93 L145.56,802.46 L147.90,799.63 Z" fill="#161b36"/>
<path d="M140.30,753.75 L140.07,754.25 L139.82,754.85 L139.55,755.53 L139.26,756.30 L138.95,757.14 L138.61,758.03 L138.24,758.97 L137.84,759.96 L137.40,760.97 L136.92,762.00 L136.39,763.04 L135.82,764.07 L135.20,765.10 L134.52,766.10 L133.79,767.07 L133.00,768.00 L132.10,768.93 L131.05,769.92 L129.89,770.94 L128.63,771.99 L127.29,773.05 L125.90,774.13 L124.47,775.19 L123.04,776.24 L121.63,777.26 L120.25,778.24" fill="none" stroke="#e11a1c" stroke-width="1.60" stroke-linecap="round" stroke-linejoin="round"/><path d="M114.00,782.70 L118.00,775.91 L118.40,779.56 L121.72,781.12 Z" fill="#e11a1c"/>
<text x="262.70" y="586.77" font-family="Liberation Sans" font-size="12.50" stroke="#111" stroke-width="0.28" text-anchor="middle" fill="#111">Br</text>
<path d="M270.00,577.00 L278.40,569.50 L297.40,568.75 L306.80,563.70" fill="none" stroke="#1a1a1a" stroke-width="1.10"/>
<path d="M297.40,568.75 L291.20,579.30" fill="none" stroke="#1a1a1a" stroke-width="1.10"/>
<text x="287.60" y="589.48" font-family="Liberation Sans" font-size="12.50" stroke="#111" stroke-width="0.28" text-anchor="middle" fill="#111">O</text>
<path d="M288.40,591.50 V601.50" stroke="#1a1a1a" stroke-width="1.2" stroke-dasharray="2.8,1.9"/>
<text x="290.00" y="612.77" font-family="Liberation Sans" font-size="12.50" stroke="#111" stroke-width="0.28" text-anchor="middle" fill="#111">Ti</text>
<path d="M270.00,608.20 L282.60,608.20" fill="none" stroke="#1a1a1a" stroke-width="1.10"/><path d="M296.25,608.20 L311.90,608.20" fill="none" stroke="#1a1a1a" stroke-width="1.10"/>
<text x="308.20" y="564.80" font-family="Liberation Sans" font-size="12.50" stroke="#111" stroke-width="0.28" text-anchor="start" fill="#111">Ph</text>
<text x="326.30" y="605.90" font-family="Liberation Sans" font-size="14.50" font-weight="bold" text-anchor="start" fill="#111">2</text>
<circle cx="419.6" cy="600.7" r="0.9" fill="#111"/>
<text x="407.30" y="623.08" font-family="Liberation Sans" font-size="12.50" stroke="#111" stroke-width="0.28" text-anchor="middle" fill="#111">Br</text>
<path d="M412.80,612.50 L424.80,604.80 L443.40,604.80 L452.20,599.40" fill="none" stroke="#1a1a1a" stroke-width="1.10"/>
<path d="M443.40,604.80 L435.80,614.70" fill="none" stroke="#1a1a1a" stroke-width="1.10"/>
<text x="462.50" y="600.48" font-family="Liberation Sans" font-size="12.50" stroke="#111" stroke-width="0.28" text-anchor="middle" fill="#111">Ph</text>
<text x="433.60" y="625.73" font-family="Liberation Sans" font-size="12.50" stroke="#111" stroke-width="0.28" text-anchor="middle" fill="#111">O</text>
<path d="M434.20,628.00 V637.50" stroke="#1a1a1a" stroke-width="1.2" stroke-dasharray="2.8,1.9"/>
<text x="435.40" y="647.98" font-family="Liberation Sans" font-size="12.50" stroke="#111" stroke-width="0.28" text-anchor="middle" fill="#111">Ti</text>
<path d="M415.50,643.70 L427.80,643.70" fill="none" stroke="#1a1a1a" stroke-width="1.10"/><path d="M441.30,643.70 L457.50,643.70" fill="none" stroke="#1a1a1a" stroke-width="1.10"/>
<text x="474.50" y="628.59" font-family="Liberation Sans" font-size="14.50" font-weight="bold" text-anchor="middle" fill="#111">1</text>
<text x="545.00" y="615.80" font-family="Liberation Sans" font-size="12.00" stroke="#111" stroke-width="0.28" text-anchor="middle" fill="#111">H·</text>
<text x="522.00" y="686.80" font-family="Liberation Sans" font-size="12.50" stroke="#111" stroke-width="0.28" text-anchor="middle" fill="#111">TBAB</text>
<circle cx="471.2" cy="720.6" r="0.9" fill="#111"/>
<path d="M475.80,721.90 L493.80,721.90 L484.50,731.70 L475.80,721.90" fill="none" stroke="#1a1a1a" stroke-width="1.00"/>
<path d="M479.20,723.30 L484.50,729.00 L489.90,723.30" fill="none" stroke="#555" stroke-width="0.60"/>
<circle cx="484.6" cy="725.6" r="3.7" fill="none" stroke="#1a1a1a" stroke-width="0.9"/>
<path d="M482.50,725.60 L486.70,725.60" fill="none" stroke="#1a1a1a" stroke-width="0.80"/>
<path d="M484.60,723.50 L484.60,727.70" fill="none" stroke="#1a1a1a" stroke-width="0.80"/>
<path d="M493.80,721.90 L503.10,716.40" fill="none" stroke="#1a1a1a" stroke-width="1.10"/>
<text x="505.60" y="717.70" font-family="Liberation Sans" font-size="12.50" stroke="#111" stroke-width="0.28" text-anchor="start" fill="#111">Ph</text>
<text x="484.50" y="742.18" font-family="Liberation Sans" font-size="12.50" stroke="#111" stroke-width="0.28" text-anchor="middle" fill="#111">O</text>
<path d="M484.90,744.00 V754.00" stroke="#1a1a1a" stroke-width="1.2" stroke-dasharray="2.8,1.9"/>
<text x="486.00" y="765.18" font-family="Liberation Sans" font-size="12.50" stroke="#111" stroke-width="0.28" text-anchor="middle" fill="#111">Ti</text>
<path d="M466.80,760.20 L479.30,760.20" fill="none" stroke="#1a1a1a" stroke-width="1.10"/><path d="M493.30,760.20 L508.60,760.20" fill="none" stroke="#1a1a1a" stroke-width="1.10"/>
<text x="472.20" y="809.65" font-family="Liberation Sans" font-size="13.00" stroke="#111" stroke-width="0.28" text-anchor="middle" fill="#111">hv</text>
<text x="166.70" y="653.08" font-family="Liberation Sans" font-size="12.50" stroke="#111" stroke-width="0.28" text-anchor="middle" fill="#111">Ph</text>
<path d="M163.40,655.20 L163.40,665.00 L147.00,674.80 L147.00,685.50" fill="none" stroke="#1a1a1a" stroke-width="1.10"/>
<path d="M163.40,665.00 L173.30,670.50" fill="none" stroke="#1a1a1a" stroke-width="1.10"/>
<text x="178.75" y="680.48" font-family="Liberation Sans" font-size="12.50" stroke="#111" stroke-width="0.28" text-anchor="middle" fill="#111">O</text>
<path d="M179.00,681.40 L179.80,692.30" fill="none" stroke="#1a1a1a" stroke-width="1.10"/>
<path d="M179.80,692.30 L189.70,699.00" fill="none" stroke="#1a1a1a" stroke-width="1.10"/>
<path d="M181.60,689.90 L191.10,696.30" fill="none" stroke="#1a1a1a" stroke-width="1.10"/>
<text x="194.20" y="706.68" font-family="Liberation Sans" font-size="12.50" stroke="#111" stroke-width="0.28" text-anchor="middle" fill="#111">O</text>
<path d="M179.80,692.30 L167.50,698.50" fill="none" stroke="#1a1a1a" stroke-width="1.10"/>
<text x="162.30" y="706.68" font-family="Liberation Sans" font-size="12.50" stroke="#111" stroke-width="0.28" text-anchor="middle" fill="#111">O</text>
<circle cx="173" cy="706.4" r="3.7" fill="none" stroke="#1a1a1a" stroke-width="1.0"/>
<path d="M171.10,706.40 L174.90,706.40" fill="none" stroke="#1a1a1a" stroke-width="1.00"/>
<text x="149.20" y="697.88" font-family="Liberation Sans" font-size="12.50" stroke="#111" stroke-width="0.28" text-anchor="middle" fill="#111">Br</text>
<path d="M163.40,697.00 L163.50,696.75 L163.64,696.45 L163.80,696.09 L163.99,695.70 L164.19,695.26 L164.41,694.80 L164.63,694.31 L164.86,693.81 L165.08,693.30 L165.28,692.79 L165.48,692.27 L165.65,691.77 L165.79,691.29 L165.90,690.83 L165.97,690.40 L166.00,690.00 L165.99,689.62 L165.97,689.24 L165.92,688.85 L165.85,688.47 L165.76,688.09 L165.66,687.71 L165.53,687.35 L165.38,687.00 L165.21,686.66 L165.03,686.35 L164.82,686.05 L164.60,685.78 L164.35,685.54 L164.09,685.32 L163.80,685.14 L163.50,685.00 L163.15,684.90 L162.75,684.84 L162.30,684.83 L161.80,684.85 L161.27,684.90 L160.72,684.98 L160.16,685.08 L159.59,685.19" fill="none" stroke="#1a1a1a" stroke-width="1.10" stroke-linecap="round" stroke-linejoin="round"/><path d="M156.00,686.00 L159.09,683.35 L158.63,685.40 L159.93,687.06 Z" fill="#1a1a1a"/>
<text x="213.00" y="687.69" font-family="Liberation Sans" font-size="14.50" font-weight="bold" text-anchor="middle" fill="#111">3</text>
<path d="M162.60,709.00 V718.50" stroke="#1a1a1a" stroke-width="1.2" stroke-dasharray="2.8,1.9"/>
<text x="163.40" y="729.68" font-family="Liberation Sans" font-size="12.50" stroke="#111" stroke-width="0.28" text-anchor="middle" fill="#111">Ti</text>
<path d="M145.00,725.00 L157.00,725.00" fill="none" stroke="#1a1a1a" stroke-width="1.10"/><path d="M171.00,725.00 L186.60,725.00" fill="none" stroke="#1a1a1a" stroke-width="1.10"/>
<text x="257.00" y="702.30" font-family="Liberation Sans" font-size="12.00" stroke="#111" stroke-width="0.28" text-anchor="start" fill="#111">CO<tspan font-size="8.5" dy="3.5">2</tspan></text>
<circle cx="282.4" cy="698" r="1" fill="#111"/><path d="M285,694.8 H287.8" stroke="#111" stroke-width="1.4"/>
<path d="M261.40,705.00 V715.50" stroke="#1a1a1a" stroke-width="1.2" stroke-dasharray="2.8,1.9"/>
<text x="243.00" y="726.00" font-family="Liberation Sans" font-size="12.20" stroke="#111" stroke-width="0.28" text-anchor="start" fill="#111">Basic site</text>
<path d="M222.70,722.10 L239.90,722.10" fill="none" stroke="#1a1a1a" stroke-width="1.10"/>
<path d="M298.80,722.10 L316.40,722.10" fill="none" stroke="#1a1a1a" stroke-width="1.10"/>
<text x="274.70" y="761.65" font-family="Liberation Sans" font-size="13.00" stroke="#111" stroke-width="0.28" text-anchor="middle" fill="#111">hv</text>
<text x="263.00" y="808.20" font-family="Liberation Sans" font-size="12.00" stroke="#111" stroke-width="0.28" text-anchor="start" fill="#111">CO<tspan font-size="8.5" dy="3.5">2</tspan></text>
<path d="M267.50,810.50 V820.50" stroke="#1a1a1a" stroke-width="1.2" stroke-dasharray="2.8,1.9"/>
<text x="248.50" y="831.80" font-family="Liberation Sans" font-size="12.20" stroke="#111" stroke-width="0.28" text-anchor="start" fill="#111">Basic site</text>
<path d="M227.50,827.50 L246.25,827.50" fill="none" stroke="#1a1a1a" stroke-width="1.10"/>
<path d="M306.25,827.50 L324.50,827.50" fill="none" stroke="#1a1a1a" stroke-width="1.10"/>
<text x="296.50" y="883.00" font-family="Liberation Sans" font-size="12.00" stroke="#111" stroke-width="0.28" text-anchor="start" fill="#111">CO<tspan font-size="8.5" dy="3.5">2</tspan></text>
<text x="88.75" y="790.30" font-family="Liberation Sans" font-size="12.50" stroke="#111" stroke-width="0.28" text-anchor="middle" fill="#111">TBAB</text>
<text x="157.50" y="830.73" font-family="Liberation Sans" font-size="12.50" stroke="#111" stroke-width="0.28" text-anchor="middle" fill="#111">O</text>
<path d="M162.50,826.25 L176.25,826.25 L181.25,842.50 L171.00,850.50" fill="none" stroke="#1a1a1a" stroke-width="1.10"/>
<path d="M181.25,842.50 L191.25,846.25" fill="none" stroke="#1a1a1a" stroke-width="1.10"/>
<text x="201.80" y="854.48" font-family="Liberation Sans" font-size="12.50" stroke="#111" stroke-width="0.28" text-anchor="middle" fill="#111">Ph</text>
<text x="166.25" y="858.23" font-family="Liberation Sans" font-size="12.50" stroke="#111" stroke-width="0.28" text-anchor="middle" fill="#111">O</text>
<path d="M161.50,850.00 L153.00,842.50 L155.70,832.00" fill="none" stroke="#1a1a1a" stroke-width="1.10"/>
<path d="M153.00,842.50 L139.50,848.00" fill="none" stroke="#1a1a1a" stroke-width="1.10"/>
<path d="M151.80,840.00 L138.30,845.50" fill="none" stroke="#1a1a1a" stroke-width="1.10"/>
<text x="134.50" y="854.48" font-family="Liberation Sans" font-size="12.50" stroke="#111" stroke-width="0.28" text-anchor="middle" fill="#111">O</text>
<path d="M166.60,860.50 V870.00" stroke="#1a1a1a" stroke-width="1.2" stroke-dasharray="2.8,1.9"/>
<text x="167.30" y="880.73" font-family="Liberation Sans" font-size="12.50" stroke="#111" stroke-width="0.28" text-anchor="middle" fill="#111">Ti</text>
<path d="M147.50,876.00 L161.00,876.00" fill="none" stroke="#1a1a1a" stroke-width="1.10"/><path d="M173.80,876.00 L188.80,876.00" fill="none" stroke="#1a1a1a" stroke-width="1.10"/>
<text x="211.25" y="930.73" font-family="Liberation Sans" font-size="12.50" stroke="#111" stroke-width="0.28" text-anchor="middle" fill="#111">O</text>
<path d="M210.50,932.00 L208.80,942.50" fill="none" stroke="#1a1a1a" stroke-width="1.10"/>
<path d="M213.30,932.40 L211.60,942.90" fill="none" stroke="#1a1a1a" stroke-width="1.10"/>
<path d="M196.00,947.00 L209.50,942.50 L215.50,953.00" fill="none" stroke="#1a1a1a" stroke-width="1.10"/>
<text x="190.00" y="953.98" font-family="Liberation Sans" font-size="12.50" stroke="#111" stroke-width="0.28" text-anchor="middle" fill="#111">O</text>
<text x="218.00" y="963.23" font-family="Liberation Sans" font-size="12.50" stroke="#111" stroke-width="0.28" text-anchor="middle" fill="#111">O</text>
<path d="M190.50,955.50 L191.25,966.25 L207.50,972.50 L215.00,964.50" fill="none" stroke="#1a1a1a" stroke-width="1.10"/>
<path d="M191.25,966.25 L180.00,972.50" fill="none" stroke="#1a1a1a" stroke-width="1.10"/>
<text x="171.25" y="981.48" font-family="Liberation Sans" font-size="12.50" stroke="#111" stroke-width="0.28" text-anchor="middle" fill="#111">Ph</text>
<path d="M442.50,862.00 L434.50,852.00 L452.50,852.00 L442.50,862.00" fill="none" stroke="#1a1a1a" stroke-width="1.10"/>
<path d="M452.50,852.00 L462.50,846.25" fill="none" stroke="#1a1a1a" stroke-width="1.10"/>
<text x="471.50" y="848.23" font-family="Liberation Sans" font-size="12.50" stroke="#111" stroke-width="0.28" text-anchor="middle" fill="#111">Ph</text>
<text x="443.20" y="871.98" font-family="Liberation Sans" font-size="12.50" stroke="#111" stroke-width="0.28" text-anchor="middle" fill="#111">O</text>
<path d="M442.80,874.50 V883.00" stroke="#1a1a1a" stroke-width="1.2" stroke-dasharray="2.8,1.9"/>
<text x="445.00" y="894.48" font-family="Liberation Sans" font-size="12.50" stroke="#111" stroke-width="0.28" text-anchor="middle" fill="#111">Ti</text>
<path d="M425.00,890.00 L437.50,890.00" fill="none" stroke="#1a1a1a" stroke-width="1.10"/><path d="M452.50,890.00 L467.00,890.00" fill="none" stroke="#1a1a1a" stroke-width="1.10"/>
<text x="425.00" y="945.73" font-family="Liberation Sans" font-size="12.50" stroke="#111" stroke-width="0.28" text-anchor="middle" fill="#111">O</text>
<path d="M422.00,946.00 L416.25,956.25 L434.50,956.25 L428.00,946.00" fill="none" stroke="#1a1a1a" stroke-width="1.10"/>
<path d="M416.25,956.25 L405.50,962.50" fill="none" stroke="#1a1a1a" stroke-width="1.10"/>
<text x="396.25" y="970.68" font-family="Liberation Sans" font-size="12.50" stroke="#111" stroke-width="0.28" text-anchor="middle" fill="#111">Ph</text>
<text x="279.00" y="924.70" font-family="Liberation Sans" font-size="18.50" stroke="#111" stroke-width="0.28" text-anchor="start" fill="#111">Ti-CNO</text>
<text x="17.50" y="560.00" font-family="Liberation Sans" font-size="29.00" font-weight="bold" text-anchor="start" fill="#111">d</text>
</svg></body></html>
